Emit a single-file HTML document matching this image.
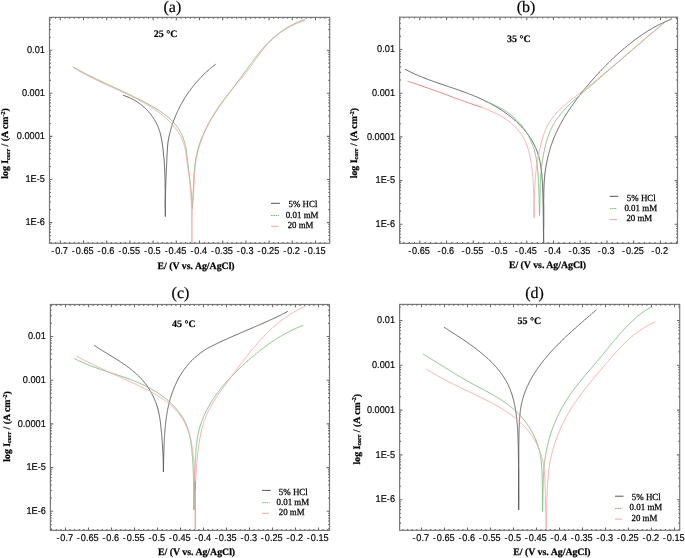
<!DOCTYPE html>
<html><head><meta charset="utf-8"><style>
html,body{margin:0;padding:0;background:#fff;width:685px;height:558px;overflow:hidden}
svg{display:block;text-rendering:geometricPrecision;will-change:transform}
.tl{font-family:"Liberation Sans",sans-serif;font-size:9.9px;fill:#000;stroke:#000;stroke-width:0.18px}
.ti{font-family:"Liberation Serif",serif;font-size:16px;fill:#000;stroke:#000;stroke-width:0.2px}
.tm{font-family:"Liberation Serif",serif;font-size:10px;font-weight:bold;fill:#000;stroke:#000;stroke-width:0.15px}
.al{font-family:"Liberation Serif",serif;font-size:9.8px;font-weight:bold;fill:#000;stroke:#000;stroke-width:0.25px}
.sub{font-size:6px}
.lg{font-family:"Liberation Serif",serif;font-size:9.3px;fill:#000;stroke:#000;stroke-width:0.25px}
</style></head>
<body><svg width="685" height="558" viewBox="0 0 685 558">
<rect width="685" height="558" fill="#fff"/>
<g><clipPath id="cla"><rect x="49.5" y="17.4" width="280.2" height="225.9"/></clipPath><path d="M123.10 95.30 L124.1 95.6 L125.1 96.0 L126.1 96.3 L127.0 96.7 L128.0 97.1 L129.0 97.5 L129.9 97.9 L130.8 98.4 L131.8 98.8 L132.7 99.3 L133.6 99.8 L134.5 100.3 L135.3 100.8 L136.2 101.3 L137.1 101.9 L137.9 102.4 L138.8 103.0 L139.6 103.6 L140.4 104.2 L141.2 104.8 L142.0 105.4 L142.7 106.0 L143.5 106.7 L144.3 107.4 L145.0 108.0 L145.7 108.7 L146.4 109.4 L147.1 110.1 L147.8 110.9 L148.5 111.6 L149.1 112.4 L149.8 113.1 L150.4 113.9 L151.0 114.7 L151.6 115.5 L152.2 116.3 L152.8 117.1 L153.3 117.9 L153.8 118.7 L154.4 119.6 L154.9 120.4 L155.4 121.3 L155.8 122.1 L156.3 123.0 L156.7 123.9 L157.2 124.8 L157.6 125.7 L158.0 126.6 L158.3 127.5 L158.7 128.5 L159.0 129.4 L159.3 130.3 L159.7 131.3 L159.9 132.2 L160.2 133.2 L160.5 134.2 L160.7 135.1 L160.9 136.1 L161.1 137.1 L161.3 138.1 L161.5 139.1 L161.7 140.1 L161.9 141.1 L162.0 142.1 L162.2 143.1 L162.3 144.1 L162.5 145.1 L162.6 146.1 L162.7 147.1 L162.9 148.1 L163.0 149.1 L163.1 150.1 L163.2 151.1 L163.3 152.1 L163.4 153.1 L163.5 154.1 L163.6 155.1 L163.7 156.1 L163.8 157.1 L163.9 158.1 L164.0 159.1 L164.1 160.1 L164.2 161.1 L164.2 162.1 L164.3 163.1 L164.4 164.1 L164.4 165.1 L164.5 166.1 L164.5 167.1 L164.6 168.1 L164.7 169.1 L164.7 170.1 L164.7 171.1 L164.8 172.2 L164.8 173.2 L164.9 174.2 L164.9 175.2 L164.9 176.2 L165.0 177.2 L165.0 178.2 L165.0 179.2 L165.0 180.2 L165.1 181.2 L165.1 182.2 L165.1 183.2 L165.1 184.2 L165.1 185.3 L165.1 186.3 L165.1 187.3 L165.2 188.3 L165.2 189.3 L165.2 190.3 L165.2 191.3 L165.2 192.3 L165.2 193.3 L165.2 194.3 L165.2 195.3 L165.2 196.3 L165.2 197.3 L165.2 198.4 L165.2 199.4 L165.2 200.4 L165.2 201.4 L165.2 202.4 L165.2 203.4 L165.2 204.4 L165.2 205.4 L165.2 206.4 L165.2 207.4 L165.3 208.4 L165.3 209.4 L165.3 210.5 L165.3 211.5 L165.3 212.5 L165.3 213.5 L165.3 214.5 L165.3 215.5 L165.3 216.5" fill="none" stroke="#555555" stroke-width="0.9" clip-path="url(#cla)"/><path d="M165.38 216.50 L165.4 215.5 L165.4 214.5 L165.3 213.5 L165.3 212.5 L165.3 211.5 L165.3 210.5 L165.3 209.5 L165.3 208.4 L165.3 207.4 L165.3 206.4 L165.3 205.4 L165.3 204.4 L165.3 203.4 L165.3 202.4 L165.4 201.4 L165.4 200.4 L165.4 199.4 L165.4 198.4 L165.4 197.4 L165.4 196.4 L165.5 195.4 L165.5 194.4 L165.5 193.4 L165.5 192.3 L165.6 191.3 L165.6 190.3 L165.6 189.3 L165.7 188.3 L165.7 187.3 L165.7 186.3 L165.8 185.3 L165.8 184.3 L165.8 183.3 L165.9 182.3 L165.9 181.3 L165.9 180.3 L166.0 179.3 L166.0 178.3 L166.1 177.3 L166.1 176.3 L166.1 175.3 L166.2 174.2 L166.2 173.2 L166.3 172.2 L166.3 171.2 L166.4 170.2 L166.4 169.2 L166.4 168.2 L166.5 167.2 L166.5 166.2 L166.6 165.2 L166.6 164.2 L166.7 163.2 L166.7 162.2 L166.8 161.2 L166.8 160.2 L166.8 159.2 L166.9 158.2 L166.9 157.1 L167.0 156.1 L167.0 155.1 L167.1 154.1 L167.1 153.1 L167.2 152.1 L167.3 151.1 L167.3 150.1 L167.4 149.1 L167.5 148.1 L167.5 147.1 L167.6 146.1 L167.7 145.1 L167.8 144.1 L167.9 143.1 L168.0 142.1 L168.2 141.1 L168.3 140.1 L168.5 139.1 L168.7 138.2 L168.9 137.2 L169.1 136.2 L169.3 135.2 L169.6 134.2 L169.8 133.2 L170.0 132.3 L170.3 131.3 L170.6 130.3 L170.8 129.4 L171.1 128.4 L171.4 127.4 L171.7 126.5 L172.0 125.5 L172.3 124.6 L172.6 123.6 L173.0 122.7 L173.3 121.7 L173.6 120.8 L174.0 119.8 L174.4 118.9 L174.7 118.0 L175.1 117.0 L175.5 116.1 L175.9 115.2 L176.3 114.3 L176.7 113.4 L177.1 112.4 L177.5 111.5 L177.9 110.6 L178.4 109.7 L178.8 108.8 L179.2 107.9 L179.7 107.0 L180.2 106.1 L180.6 105.3 L181.1 104.4 L181.6 103.5 L182.1 102.6 L182.6 101.8 L183.1 100.9 L183.6 100.0 L184.1 99.2 L184.6 98.3 L185.2 97.5 L185.7 96.6 L186.3 95.8 L186.8 94.9 L187.4 94.1 L187.9 93.3 L188.5 92.5 L189.1 91.6 L189.7 90.8 L190.3 90.0 L190.9 89.2 L191.5 88.4 L192.1 87.6 L192.7 86.8 L193.3 86.0 L193.9 85.2 L194.6 84.5 L195.2 83.7 L195.9 82.9 L196.5 82.2 L197.2 81.4 L197.8 80.7 L198.5 79.9 L199.2 79.2 L199.9 78.4 L200.6 77.7 L201.3 77.0 L202.0 76.3 L202.7 75.5 L203.4 74.8 L204.1 74.1 L204.8 73.4 L205.5 72.7 L206.3 72.1 L207.0 71.4 L207.8 70.7 L208.5 70.0 L209.3 69.4 L210.0 68.7 L210.8 68.1 L211.6 67.4 L212.3 66.8 L213.1 66.2 L213.9 65.5 L214.7 64.9 L215.5 64.3" fill="none" stroke="#555555" stroke-width="0.9" clip-path="url(#cla)"/><path d="M73.10 67.00 L74.0 67.5 L74.9 68.0 L75.8 68.5 L76.7 69.0 L77.6 69.5 L78.5 69.9 L79.3 70.4 L80.2 70.9 L81.1 71.4 L82.0 71.8 L82.9 72.3 L83.8 72.8 L84.7 73.2 L85.6 73.7 L86.5 74.1 L87.4 74.6 L88.3 75.1 L89.2 75.5 L90.1 76.0 L91.0 76.4 L91.9 76.9 L92.9 77.3 L93.8 77.7 L94.7 78.2 L95.6 78.6 L96.5 79.1 L97.4 79.5 L98.3 79.9 L99.2 80.4 L100.1 80.8 L101.0 81.2 L101.9 81.7 L102.8 82.1 L103.7 82.5 L104.6 82.9 L105.5 83.4 L106.4 83.8 L107.4 84.2 L108.3 84.6 L109.2 85.1 L110.1 85.5 L111.0 85.9 L111.9 86.3 L112.8 86.8 L113.7 87.2 L114.6 87.6 L115.5 88.0 L116.4 88.5 L117.3 88.9 L118.2 89.3 L119.1 89.7 L120.1 90.1 L121.0 90.6 L121.9 91.0 L122.8 91.4 L123.7 91.8 L124.6 92.3 L125.5 92.7 L126.4 93.1 L127.3 93.6 L128.2 94.0 L129.1 94.4 L130.0 94.8 L130.9 95.3 L131.8 95.7 L132.7 96.2 L133.6 96.6 L134.5 97.0 L135.4 97.5 L136.3 97.9 L137.2 98.4 L138.1 98.8 L139.0 99.3 L139.9 99.7 L140.8 100.2 L141.7 100.6 L142.6 101.1 L143.5 101.6 L144.4 102.1 L145.3 102.5 L146.2 103.0 L147.1 103.5 L148.0 104.0 L148.9 104.5 L149.8 105.0 L150.7 105.5 L151.6 106.0 L152.5 106.5 L153.4 107.1 L154.3 107.6 L155.2 108.1 L156.1 108.7 L157.0 109.2 L157.9 109.8 L158.8 110.4 L159.7 110.9 L160.5 111.5 L161.4 112.1 L162.3 112.7 L163.1 113.3 L164.0 113.9 L164.8 114.6 L165.7 115.2 L166.5 115.8 L167.3 116.5 L168.1 117.1 L168.9 117.8 L169.7 118.5 L170.4 119.2 L171.2 119.9 L171.9 120.6 L172.6 121.3 L173.3 122.1 L174.0 122.8 L174.6 123.6 L175.3 124.3 L175.9 125.1 L176.5 125.9 L177.1 126.7 L177.7 127.5 L178.2 128.3 L178.8 129.1 L179.3 130.0 L179.8 130.8 L180.3 131.7 L180.7 132.6 L181.2 133.4 L181.6 134.3 L182.0 135.2 L182.4 136.1 L182.8 137.0 L183.2 137.9 L183.5 138.9 L183.8 139.8 L184.1 140.7 L184.4 141.7 L184.7 142.6 L185.0 143.6 L185.2 144.5 L185.5 145.5 L185.7 146.5 L185.9 147.5 L186.0 148.4 L186.2 149.4 L186.4 150.4 L186.5 151.4 L186.6 152.4 L186.8 153.4 L186.9 154.4 L187.0 155.4 L187.1 156.4 L187.2 157.4 L187.3 158.4 L187.5 159.4 L187.6 160.4 L187.7 161.4 L187.8 162.4 L187.9 163.4 L188.0 164.5 L188.1 165.5 L188.3 166.5 L188.4 167.5 L188.5 168.5 L188.6 169.5 L188.8 170.5 L188.9 171.5 L189.0 172.5 L189.2 173.5 L189.3 174.5 L189.4 175.5 L189.6 176.5 L189.7 177.5 L189.8 178.5 L189.9 179.5 L190.1 180.5 L190.2 181.5 L190.3 182.5 L190.4 183.5 L190.5 184.5 L190.6 185.5 L190.7 186.5 L190.8 187.5 L190.9 188.5 L191.0 189.5 L191.1 190.5 L191.2 191.5 L191.3 192.5 L191.3 193.5 L191.4 194.5 L191.5 195.5 L191.5 196.5 L191.6 197.5 L191.7 198.5 L191.7 199.5 L191.8 200.5 L191.8 201.6 L191.9 202.6 L192.0 203.6 L192.0 204.6 L192.1 205.6 L192.2 206.6 L192.2 207.6 L192.3 208.6" fill="none" stroke="#78bc78" stroke-width="0.9" clip-path="url(#cla)"/><path d="M192.26 208.61 L192.3 207.6 L192.4 206.6 L192.5 205.6 L192.5 204.6 L192.6 203.6 L192.6 202.5 L192.7 201.5 L192.8 200.5 L192.8 199.5 L192.9 198.5 L192.9 197.5 L193.0 196.5 L193.0 195.5 L193.0 194.5 L193.1 193.5 L193.1 192.5 L193.2 191.5 L193.2 190.5 L193.3 189.5 L193.3 188.5 L193.4 187.5 L193.4 186.5 L193.5 185.5 L193.5 184.5 L193.5 183.4 L193.6 182.4 L193.6 181.4 L193.7 180.4 L193.8 179.4 L193.8 178.4 L193.9 177.4 L193.9 176.4 L194.0 175.4 L194.1 174.3 L194.1 173.3 L194.2 172.3 L194.3 171.3 L194.4 170.3 L194.5 169.3 L194.5 168.3 L194.6 167.3 L194.8 166.3 L194.9 165.3 L195.0 164.3 L195.1 163.3 L195.2 162.3 L195.4 161.3 L195.5 160.3 L195.7 159.3 L195.9 158.3 L196.0 157.3 L196.2 156.3 L196.4 155.4 L196.6 154.4 L196.8 153.4 L197.1 152.4 L197.3 151.5 L197.5 150.5 L197.8 149.6 L198.1 148.6 L198.3 147.7 L198.6 146.7 L198.9 145.8 L199.2 144.8 L199.5 143.9 L199.9 142.9 L200.2 142.0 L200.5 141.1 L200.9 140.2 L201.2 139.2 L201.6 138.3 L202.0 137.4 L202.4 136.5 L202.8 135.6 L203.2 134.7 L203.6 133.7 L204.0 132.8 L204.4 131.9 L204.8 131.0 L205.3 130.1 L205.7 129.3 L206.2 128.4 L206.6 127.5 L207.1 126.6 L207.5 125.7 L208.0 124.8 L208.5 123.9 L209.0 123.1 L209.5 122.2 L210.0 121.3 L210.5 120.4 L211.0 119.6 L211.5 118.7 L212.0 117.8 L212.6 117.0 L213.1 116.1 L213.6 115.3 L214.2 114.4 L214.7 113.6 L215.3 112.7 L215.8 111.9 L216.4 111.0 L216.9 110.2 L217.5 109.3 L218.1 108.5 L218.7 107.6 L219.2 106.8 L219.8 105.9 L220.4 105.1 L221.0 104.3 L221.6 103.4 L222.2 102.6 L222.8 101.8 L223.3 100.9 L223.9 100.1 L224.5 99.3 L225.2 98.4 L225.8 97.6 L226.4 96.8 L227.0 95.9 L227.6 95.1 L228.2 94.3 L228.8 93.5 L229.4 92.6 L230.0 91.8 L230.6 91.0 L231.3 90.2 L231.9 89.4 L232.5 88.5 L233.1 87.7 L233.7 86.9 L234.4 86.1 L235.0 85.3 L235.6 84.4 L236.2 83.6 L236.8 82.8 L237.4 82.0 L238.0 81.2 L238.7 80.4 L239.3 79.5 L239.9 78.7 L240.5 77.9 L241.1 77.1 L241.7 76.3 L242.3 75.5 L242.9 74.6 L243.5 73.8 L244.1 73.0 L244.7 72.2 L245.3 71.4 L245.9 70.6 L246.5 69.7 L247.1 68.9 L247.7 68.1 L248.3 67.3 L248.8 66.5 L249.4 65.7 L250.0 64.9 L250.6 64.1 L251.2 63.3 L251.8 62.5 L252.4 61.7 L253.0 60.9 L253.6 60.1 L254.2 59.3 L254.8 58.5 L255.4 57.7 L256.0 56.9 L256.6 56.1 L257.2 55.3 L257.8 54.5 L258.4 53.8 L259.0 53.0 L259.7 52.2 L260.3 51.5 L260.9 50.7 L261.5 50.0 L262.2 49.2 L262.8 48.5 L263.5 47.7 L264.1 47.0 L264.8 46.2 L265.4 45.5 L266.1 44.8 L266.8 44.1 L267.5 43.4 L268.2 42.7 L268.9 42.0 L269.6 41.3 L270.3 40.6 L271.0 39.9 L271.7 39.2 L272.5 38.6 L273.2 37.9 L273.9 37.3 L274.7 36.6 L275.5 36.0 L276.2 35.3 L277.0 34.7 L277.8 34.1 L278.6 33.5 L279.4 32.9 L280.2 32.3 L281.0 31.7 L281.8 31.1 L282.6 30.6 L283.5 30.0 L284.3 29.4 L285.2 28.9 L286.0 28.3 L286.9 27.8 L287.7 27.3 L288.6 26.8 L289.5 26.3 L290.4 25.8 L291.3 25.3 L292.2 24.8 L293.1 24.4 L294.0 23.9 L294.9 23.5 L295.8 23.0 L296.7 22.6 L297.7 22.2 L298.6 21.8 L299.6 21.4 L300.5 21.0 L301.5 20.6 L302.5 20.2 L303.4 19.9 L304.4 19.5 L305.4 19.2" fill="none" stroke="#78bc78" stroke-width="0.9" clip-path="url(#cla)"/><path d="M73.10 67.30 L74.0 67.9 L74.8 68.4 L75.7 68.9 L76.6 69.5 L77.5 70.0 L78.4 70.5 L79.2 71.0 L80.1 71.6 L81.0 72.1 L81.9 72.6 L82.8 73.1 L83.6 73.5 L84.5 74.0 L85.4 74.5 L86.3 75.0 L87.2 75.4 L88.1 75.9 L89.0 76.4 L89.9 76.8 L90.8 77.3 L91.6 77.7 L92.5 78.2 L93.4 78.6 L94.3 79.1 L95.2 79.5 L96.1 79.9 L97.0 80.4 L97.9 80.8 L98.8 81.2 L99.7 81.6 L100.6 82.0 L101.5 82.5 L102.4 82.9 L103.3 83.3 L104.2 83.7 L105.1 84.1 L106.0 84.5 L106.9 84.9 L107.8 85.3 L108.7 85.8 L109.6 86.2 L110.5 86.6 L111.5 87.0 L112.4 87.4 L113.3 87.8 L114.2 88.2 L115.1 88.6 L116.0 89.0 L116.9 89.4 L117.8 89.8 L118.7 90.2 L119.6 90.7 L120.5 91.1 L121.4 91.5 L122.3 91.9 L123.2 92.3 L124.1 92.7 L125.1 93.2 L126.0 93.6 L126.9 94.0 L127.8 94.5 L128.7 94.9 L129.6 95.3 L130.5 95.8 L131.4 96.2 L132.3 96.7 L133.2 97.1 L134.1 97.6 L135.0 98.0 L135.9 98.5 L136.8 99.0 L137.7 99.4 L138.6 99.9 L139.5 100.4 L140.5 100.9 L141.4 101.4 L142.3 101.9 L143.2 102.4 L144.1 102.9 L145.0 103.4 L145.9 103.9 L146.7 104.4 L147.6 105.0 L148.5 105.5 L149.4 106.0 L150.3 106.6 L151.2 107.2 L152.0 107.7 L152.9 108.3 L153.8 108.8 L154.6 109.4 L155.5 110.0 L156.4 110.6 L157.2 111.2 L158.0 111.8 L158.9 112.4 L159.7 113.0 L160.5 113.7 L161.3 114.3 L162.1 114.9 L162.9 115.6 L163.7 116.2 L164.5 116.9 L165.3 117.5 L166.0 118.2 L166.8 118.9 L167.5 119.6 L168.2 120.3 L169.0 120.9 L169.7 121.7 L170.4 122.4 L171.1 123.1 L171.7 123.8 L172.4 124.6 L173.1 125.3 L173.7 126.0 L174.3 126.8 L174.9 127.6 L175.5 128.3 L176.1 129.1 L176.7 129.9 L177.3 130.7 L177.8 131.5 L178.3 132.3 L178.8 133.2 L179.3 134.0 L179.8 134.8 L180.3 135.7 L180.8 136.5 L181.2 137.4 L181.6 138.3 L182.0 139.1 L182.4 140.0 L182.8 140.9 L183.1 141.8 L183.4 142.7 L183.7 143.7 L184.0 144.6 L184.3 145.5 L184.6 146.5 L184.8 147.4 L185.0 148.4 L185.2 149.4 L185.4 150.4 L185.6 151.4 L185.7 152.3 L185.9 153.3 L186.0 154.3 L186.2 155.3 L186.3 156.3 L186.4 157.3 L186.6 158.3 L186.7 159.3 L186.8 160.3 L187.0 161.3 L187.1 162.3 L187.2 163.3 L187.4 164.3 L187.5 165.3 L187.6 166.3 L187.8 167.3 L187.9 168.3 L188.1 169.3 L188.2 170.3 L188.4 171.3 L188.5 172.3 L188.6 173.3 L188.8 174.3 L188.9 175.3 L189.0 176.3 L189.2 177.3 L189.3 178.3 L189.4 179.3 L189.5 180.3 L189.7 181.3 L189.8 182.3 L189.9 183.3 L190.0 184.3 L190.1 185.3 L190.2 186.3 L190.3 187.3 L190.4 188.3 L190.4 189.3 L190.5 190.3 L190.6 191.3 L190.7 192.3 L190.8 193.3 L190.8 194.3 L190.9 195.3 L191.0 196.3 L191.0 197.3 L191.1 198.3 L191.2 199.3 L191.2 200.3 L191.3 201.3 L191.3 202.3 L191.4 203.3 L191.4 204.3 L191.5 205.3 L191.5 206.3 L191.6 207.3 L191.6 208.3 L191.6 209.3 L191.7 210.3 L191.7 211.3 L191.7 212.3 L191.7 213.3 L191.8 214.4 L191.8 215.4 L191.8 216.4 L191.8 217.4 L191.8 218.4 L191.8 219.4 L191.8 220.4 L191.8 221.4 L191.9 222.4 L191.9 223.4 L191.9 224.4 L191.9 225.4 L191.9 226.4 L191.9 227.4 L191.9 228.4 L191.9 229.4 L191.9 230.4 L191.9 231.4 L191.9 232.4 L191.9 233.4 L191.9 234.5 L191.9 235.5 L191.9 236.5 L191.9 237.5 L191.9 238.5 L191.9 239.5 L191.9 240.5 L191.9 241.5 L191.9 242.5 L191.9 243.5" fill="none" stroke="#f4a6a6" stroke-width="0.9" clip-path="url(#cla)"/><path d="M191.92 243.50 L191.9 242.5 L191.9 241.5 L191.9 240.5 L191.9 239.5 L191.9 238.5 L191.9 237.5 L191.9 236.5 L191.9 235.5 L191.9 234.5 L191.9 233.5 L191.9 232.4 L191.9 231.4 L191.9 230.4 L191.9 229.4 L191.9 228.4 L191.9 227.4 L191.9 226.4 L191.9 225.4 L191.9 224.4 L191.9 223.4 L191.9 222.4 L191.9 221.4 L191.9 220.4 L192.0 219.4 L192.0 218.4 L192.0 217.4 L192.0 216.4 L192.0 215.4 L192.1 214.3 L192.1 213.3 L192.1 212.3 L192.2 211.3 L192.2 210.3 L192.3 209.3 L192.3 208.3 L192.4 207.3 L192.4 206.3 L192.5 205.3 L192.6 204.3 L192.7 203.3 L192.7 202.3 L192.8 201.3 L192.9 200.3 L193.0 199.3 L193.1 198.3 L193.2 197.3 L193.2 196.3 L193.3 195.3 L193.4 194.3 L193.5 193.3 L193.6 192.3 L193.6 191.3 L193.7 190.3 L193.8 189.3 L193.9 188.3 L193.9 187.3 L194.0 186.3 L194.0 185.3 L194.1 184.3 L194.1 183.3 L194.2 182.3 L194.2 181.3 L194.2 180.2 L194.3 179.2 L194.3 178.2 L194.4 177.2 L194.4 176.2 L194.5 175.2 L194.5 174.2 L194.6 173.2 L194.7 172.2 L194.8 171.2 L194.8 170.2 L194.9 169.2 L195.0 168.2 L195.2 167.2 L195.3 166.2 L195.4 165.2 L195.5 164.2 L195.7 163.2 L195.8 162.2 L196.0 161.2 L196.2 160.3 L196.3 159.3 L196.5 158.3 L196.7 157.3 L196.9 156.3 L197.1 155.4 L197.3 154.4 L197.6 153.4 L197.8 152.4 L198.0 151.5 L198.3 150.5 L198.6 149.5 L198.8 148.6 L199.1 147.6 L199.4 146.6 L199.7 145.7 L199.9 144.7 L200.2 143.8 L200.6 142.8 L200.9 141.9 L201.2 140.9 L201.5 140.0 L201.9 139.1 L202.2 138.1 L202.6 137.2 L202.9 136.2 L203.3 135.3 L203.7 134.4 L204.0 133.5 L204.4 132.5 L204.8 131.6 L205.2 130.7 L205.6 129.8 L206.0 128.9 L206.5 128.0 L206.9 127.0 L207.3 126.1 L207.8 125.2 L208.2 124.3 L208.7 123.4 L209.1 122.5 L209.6 121.7 L210.1 120.8 L210.5 119.9 L211.0 119.0 L211.5 118.1 L212.0 117.2 L212.5 116.4 L213.0 115.5 L213.5 114.6 L214.1 113.8 L214.6 112.9 L215.1 112.1 L215.6 111.2 L216.2 110.4 L216.7 109.5 L217.3 108.7 L217.9 107.8 L218.4 107.0 L219.0 106.2 L219.6 105.3 L220.2 104.5 L220.7 103.7 L221.3 102.9 L221.9 102.1 L222.5 101.3 L223.2 100.5 L223.8 99.6 L224.4 98.8 L225.0 98.0 L225.6 97.3 L226.3 96.5 L226.9 95.7 L227.5 94.9 L228.2 94.1 L228.8 93.3 L229.4 92.5 L230.1 91.7 L230.7 91.0 L231.4 90.2 L232.0 89.4 L232.7 88.6 L233.3 87.8 L234.0 87.1 L234.6 86.3 L235.3 85.5 L236.0 84.7 L236.6 84.0 L237.3 83.2 L237.9 82.4 L238.6 81.6 L239.2 80.9 L239.9 80.1 L240.5 79.3 L241.2 78.5 L241.8 77.8 L242.5 77.0 L243.1 76.2 L243.8 75.4 L244.4 74.6 L245.0 73.8 L245.7 73.1 L246.3 72.3 L246.9 71.5 L247.5 70.7 L248.1 69.9 L248.8 69.1 L249.4 68.3 L250.0 67.5 L250.6 66.7 L251.2 65.8 L251.8 65.0 L252.3 64.2 L252.9 63.4 L253.5 62.6 L254.1 61.8 L254.7 60.9 L255.2 60.1 L255.8 59.3 L256.4 58.5 L257.0 57.7 L257.6 56.8 L258.1 56.0 L258.7 55.2 L259.3 54.4 L259.9 53.6 L260.5 52.8 L261.1 52.0 L261.7 51.2 L262.3 50.4 L262.9 49.7 L263.5 48.9 L264.2 48.1 L264.8 47.4 L265.5 46.6 L266.1 45.9 L266.8 45.1 L267.4 44.4 L268.1 43.7 L268.8 42.9 L269.5 42.2 L270.2 41.5 L270.9 40.8 L271.6 40.1 L272.3 39.5 L273.0 38.8 L273.7 38.1 L274.5 37.5 L275.2 36.8 L276.0 36.2 L276.7 35.5 L277.5 34.9 L278.3 34.3 L279.1 33.7 L279.8 33.1 L280.6 32.5 L281.4 31.9 L282.3 31.4 L283.1 30.8 L283.9 30.3 L284.8 29.7 L285.6 29.2 L286.4 28.7 L287.3 28.2 L288.2 27.7 L289.1 27.2 L289.9 26.7 L290.8 26.2 L291.7 25.8 L292.6 25.3 L293.6 24.9 L294.5 24.5 L295.4 24.1 L296.4 23.7 L297.3 23.3 L298.3 22.9 L299.2 22.5 L300.2 22.2 L301.2 21.8 L302.2 21.5 L303.2 21.2 L304.2 20.9 L305.2 20.6" fill="none" stroke="#f4a6a6" stroke-width="0.9" clip-path="url(#cla)"/><rect x="49.5" y="17.4" width="280.2" height="225.9" fill="none" stroke="#7a7a7a" stroke-width="1.2"/><path d="M51.02 243.3 v-1.4 M51.02 17.4 v1.4 M55.66 243.3 v-1.4 M55.66 17.4 v1.4 M60.30 243.3 v-2.8 M60.30 17.4 v2.8 M64.94 243.3 v-1.4 M64.94 17.4 v1.4 M69.58 243.3 v-1.4 M69.58 17.4 v1.4 M74.22 243.3 v-1.4 M74.22 17.4 v1.4 M78.86 243.3 v-1.4 M78.86 17.4 v1.4 M83.50 243.3 v-2.8 M83.50 17.4 v2.8 M88.14 243.3 v-1.4 M88.14 17.4 v1.4 M92.78 243.3 v-1.4 M92.78 17.4 v1.4 M97.42 243.3 v-1.4 M97.42 17.4 v1.4 M102.06 243.3 v-1.4 M102.06 17.4 v1.4 M106.70 243.3 v-2.8 M106.70 17.4 v2.8 M111.34 243.3 v-1.4 M111.34 17.4 v1.4 M115.98 243.3 v-1.4 M115.98 17.4 v1.4 M120.62 243.3 v-1.4 M120.62 17.4 v1.4 M125.26 243.3 v-1.4 M125.26 17.4 v1.4 M129.90 243.3 v-2.8 M129.90 17.4 v2.8 M134.54 243.3 v-1.4 M134.54 17.4 v1.4 M139.18 243.3 v-1.4 M139.18 17.4 v1.4 M143.82 243.3 v-1.4 M143.82 17.4 v1.4 M148.46 243.3 v-1.4 M148.46 17.4 v1.4 M153.10 243.3 v-2.8 M153.10 17.4 v2.8 M157.74 243.3 v-1.4 M157.74 17.4 v1.4 M162.38 243.3 v-1.4 M162.38 17.4 v1.4 M167.02 243.3 v-1.4 M167.02 17.4 v1.4 M171.66 243.3 v-1.4 M171.66 17.4 v1.4 M176.30 243.3 v-2.8 M176.30 17.4 v2.8 M180.94 243.3 v-1.4 M180.94 17.4 v1.4 M185.58 243.3 v-1.4 M185.58 17.4 v1.4 M190.22 243.3 v-1.4 M190.22 17.4 v1.4 M194.86 243.3 v-1.4 M194.86 17.4 v1.4 M199.50 243.3 v-2.8 M199.50 17.4 v2.8 M204.14 243.3 v-1.4 M204.14 17.4 v1.4 M208.78 243.3 v-1.4 M208.78 17.4 v1.4 M213.42 243.3 v-1.4 M213.42 17.4 v1.4 M218.06 243.3 v-1.4 M218.06 17.4 v1.4 M222.70 243.3 v-2.8 M222.70 17.4 v2.8 M227.34 243.3 v-1.4 M227.34 17.4 v1.4 M231.98 243.3 v-1.4 M231.98 17.4 v1.4 M236.62 243.3 v-1.4 M236.62 17.4 v1.4 M241.26 243.3 v-1.4 M241.26 17.4 v1.4 M245.90 243.3 v-2.8 M245.90 17.4 v2.8 M250.54 243.3 v-1.4 M250.54 17.4 v1.4 M255.18 243.3 v-1.4 M255.18 17.4 v1.4 M259.82 243.3 v-1.4 M259.82 17.4 v1.4 M264.46 243.3 v-1.4 M264.46 17.4 v1.4 M269.10 243.3 v-2.8 M269.10 17.4 v2.8 M273.74 243.3 v-1.4 M273.74 17.4 v1.4 M278.38 243.3 v-1.4 M278.38 17.4 v1.4 M283.02 243.3 v-1.4 M283.02 17.4 v1.4 M287.66 243.3 v-1.4 M287.66 17.4 v1.4 M292.30 243.3 v-2.8 M292.30 17.4 v2.8 M296.94 243.3 v-1.4 M296.94 17.4 v1.4 M301.58 243.3 v-1.4 M301.58 17.4 v1.4 M306.22 243.3 v-1.4 M306.22 17.4 v1.4 M310.86 243.3 v-1.4 M310.86 17.4 v1.4 M315.50 243.3 v-2.8 M315.50 17.4 v2.8 M320.14 243.3 v-1.4 M320.14 17.4 v1.4 M324.78 243.3 v-1.4 M324.78 17.4 v1.4 M49.5 239.75 h1.4 M329.7 239.75 h-1.4 M49.5 235.57 h1.4 M329.7 235.57 h-1.4 M49.5 232.16 h1.4 M329.7 232.16 h-1.4 M49.5 229.28 h1.4 M329.7 229.28 h-1.4 M49.5 226.78 h1.4 M329.7 226.78 h-1.4 M49.5 224.57 h1.4 M329.7 224.57 h-1.4 M49.5 222.60 h2.8 M329.7 222.60 h-2.8 M49.5 209.63 h1.4 M329.7 209.63 h-1.4 M49.5 202.04 h1.4 M329.7 202.04 h-1.4 M49.5 196.65 h1.4 M329.7 196.65 h-1.4 M49.5 192.47 h1.4 M329.7 192.47 h-1.4 M49.5 189.06 h1.4 M329.7 189.06 h-1.4 M49.5 186.18 h1.4 M329.7 186.18 h-1.4 M49.5 183.68 h1.4 M329.7 183.68 h-1.4 M49.5 181.47 h1.4 M329.7 181.47 h-1.4 M49.5 179.50 h2.8 M329.7 179.50 h-2.8 M49.5 166.53 h1.4 M329.7 166.53 h-1.4 M49.5 158.94 h1.4 M329.7 158.94 h-1.4 M49.5 153.55 h1.4 M329.7 153.55 h-1.4 M49.5 149.37 h1.4 M329.7 149.37 h-1.4 M49.5 145.96 h1.4 M329.7 145.96 h-1.4 M49.5 143.08 h1.4 M329.7 143.08 h-1.4 M49.5 140.58 h1.4 M329.7 140.58 h-1.4 M49.5 138.37 h1.4 M329.7 138.37 h-1.4 M49.5 136.40 h2.8 M329.7 136.40 h-2.8 M49.5 123.43 h1.4 M329.7 123.43 h-1.4 M49.5 115.84 h1.4 M329.7 115.84 h-1.4 M49.5 110.45 h1.4 M329.7 110.45 h-1.4 M49.5 106.27 h1.4 M329.7 106.27 h-1.4 M49.5 102.86 h1.4 M329.7 102.86 h-1.4 M49.5 99.98 h1.4 M329.7 99.98 h-1.4 M49.5 97.48 h1.4 M329.7 97.48 h-1.4 M49.5 95.27 h1.4 M329.7 95.27 h-1.4 M49.5 93.30 h2.8 M329.7 93.30 h-2.8 M49.5 80.33 h1.4 M329.7 80.33 h-1.4 M49.5 72.74 h1.4 M329.7 72.74 h-1.4 M49.5 67.35 h1.4 M329.7 67.35 h-1.4 M49.5 63.17 h1.4 M329.7 63.17 h-1.4 M49.5 59.76 h1.4 M329.7 59.76 h-1.4 M49.5 56.88 h1.4 M329.7 56.88 h-1.4 M49.5 54.38 h1.4 M329.7 54.38 h-1.4 M49.5 52.17 h1.4 M329.7 52.17 h-1.4 M49.5 50.20 h2.8 M329.7 50.20 h-2.8 M49.5 37.23 h1.4 M329.7 37.23 h-1.4 M49.5 29.64 h1.4 M329.7 29.64 h-1.4 M49.5 24.25 h1.4 M329.7 24.25 h-1.4 M49.5 20.07 h1.4 M329.7 20.07 h-1.4" stroke="#6a6a6a" stroke-width="1.1" fill="none"/><text transform="translate(59.55 253.90) scale(0.93 1)" class="tl" text-anchor="middle">-<tspan dx="0.95">0.7</tspan></text><text transform="translate(82.75 253.90) scale(0.93 1)" class="tl" text-anchor="middle">-<tspan dx="0.95">0.65</tspan></text><text transform="translate(105.95 253.90) scale(0.93 1)" class="tl" text-anchor="middle">-<tspan dx="0.95">0.6</tspan></text><text transform="translate(129.15 253.90) scale(0.93 1)" class="tl" text-anchor="middle">-<tspan dx="0.95">0.55</tspan></text><text transform="translate(152.35 253.90) scale(0.93 1)" class="tl" text-anchor="middle">-<tspan dx="0.95">0.5</tspan></text><text transform="translate(175.55 253.90) scale(0.93 1)" class="tl" text-anchor="middle">-<tspan dx="0.95">0.45</tspan></text><text transform="translate(198.75 253.90) scale(0.93 1)" class="tl" text-anchor="middle">-<tspan dx="0.95">0.4</tspan></text><text transform="translate(221.95 253.90) scale(0.93 1)" class="tl" text-anchor="middle">-<tspan dx="0.95">0.35</tspan></text><text transform="translate(245.15 253.90) scale(0.93 1)" class="tl" text-anchor="middle">-<tspan dx="0.95">0.3</tspan></text><text transform="translate(268.35 253.90) scale(0.93 1)" class="tl" text-anchor="middle">-<tspan dx="0.95">0.25</tspan></text><text transform="translate(291.55 253.90) scale(0.93 1)" class="tl" text-anchor="middle">-<tspan dx="0.95">0.2</tspan></text><text transform="translate(314.75 253.90) scale(0.93 1)" class="tl" text-anchor="middle">-<tspan dx="0.95">0.15</tspan></text><text transform="translate(44.90 52.90) scale(0.93 1)" class="tl" text-anchor="end">0.01</text><text transform="translate(44.90 96.00) scale(0.93 1)" class="tl" text-anchor="end">0.001</text><text transform="translate(44.90 139.10) scale(0.93 1)" class="tl" text-anchor="end">0.0001</text><text transform="translate(44.90 182.20) scale(0.93 1)" class="tl" text-anchor="end">1E-5</text><text transform="translate(44.90 225.30) scale(0.93 1)" class="tl" text-anchor="end">1E-6</text><text x="172.4" y="11.6" class="ti" text-anchor="middle">(a)</text><text x="153.7" y="37.2" class="tm">25 °C</text><text x="157.5" y="268.9" class="al">E/ (V vs. Ag/AgCl)</text><text transform="translate(8.2 178.7) rotate(-90)" class="al">log I<tspan class="sub" dy="1.4">corr</tspan><tspan dy="-1.4"> / (A cm</tspan><tspan class="sub" dy="-3.5">-2</tspan><tspan dy="3.5">)</tspan></text><line x1="271.0" x2="279.9" y1="203.3" y2="203.3" stroke="#555555" stroke-width="1"/><text x="288.5" y="207.4" class="lg" textLength="29.0" lengthAdjust="spacingAndGlyphs">5% HCl</text><line x1="271.0" x2="278.9" y1="215.5" y2="215.5" stroke="#78bc78" stroke-width="1" stroke-dasharray="1.6 0.7"/><text x="285.8" y="217.5" class="lg" textLength="32.7" lengthAdjust="spacingAndGlyphs">0.01 mM</text><line x1="271.0" x2="278.2" y1="226.3" y2="226.3" stroke="#f4a6a6" stroke-width="1"/><text x="287.7" y="227.9" class="lg" textLength="25.8" lengthAdjust="spacingAndGlyphs">20 mM</text></g>
<g><clipPath id="clb"><rect x="399.6" y="17.2" width="277.9" height="226.20000000000002"/></clipPath><path d="M405.00 69.20 L405.9 69.7 L406.8 70.1 L407.7 70.6 L408.5 71.1 L409.4 71.5 L410.3 71.9 L411.2 72.4 L412.1 72.8 L413.0 73.2 L413.9 73.6 L414.8 74.1 L415.8 74.5 L416.7 74.9 L417.6 75.3 L418.5 75.7 L419.4 76.0 L420.3 76.4 L421.3 76.8 L422.2 77.2 L423.1 77.6 L424.0 77.9 L425.0 78.3 L425.9 78.6 L426.8 79.0 L427.8 79.4 L428.7 79.7 L429.6 80.1 L430.6 80.4 L431.5 80.7 L432.5 81.1 L433.4 81.4 L434.4 81.8 L435.3 82.1 L436.2 82.4 L437.2 82.7 L438.1 83.1 L439.1 83.4 L440.0 83.7 L441.0 84.1 L441.9 84.4 L442.9 84.7 L443.9 85.0 L444.8 85.3 L445.8 85.7 L446.7 86.0 L447.7 86.3 L448.6 86.6 L449.6 87.0 L450.5 87.3 L451.5 87.6 L452.5 87.9 L453.4 88.3 L454.4 88.6 L455.3 88.9 L456.3 89.2 L457.2 89.6 L458.2 89.9 L459.2 90.2 L460.1 90.6 L461.1 90.9 L462.0 91.3 L463.0 91.6 L463.9 92.0 L464.9 92.3 L465.8 92.7 L466.8 93.0 L467.7 93.4 L468.7 93.7 L469.6 94.1 L470.6 94.5 L471.5 94.8 L472.5 95.2 L473.4 95.6 L474.4 96.0 L475.3 96.4 L476.3 96.8 L477.2 97.2 L478.1 97.6 L479.1 98.0 L480.0 98.4 L480.9 98.8 L481.9 99.3 L482.8 99.7 L483.7 100.1 L484.7 100.6 L485.6 101.0 L486.5 101.5 L487.4 102.0 L488.3 102.4 L489.3 102.9 L490.2 103.4 L491.1 103.9 L492.0 104.4 L492.9 104.9 L493.8 105.4 L494.7 105.9 L495.6 106.5 L496.5 107.0 L497.4 107.5 L498.2 108.1 L499.1 108.6 L500.0 109.2 L500.9 109.7 L501.7 110.3 L502.6 110.9 L503.4 111.4 L504.3 112.0 L505.1 112.6 L506.0 113.2 L506.8 113.8 L507.6 114.4 L508.4 115.1 L509.3 115.7 L510.1 116.3 L510.9 116.9 L511.7 117.6 L512.4 118.2 L513.2 118.9 L514.0 119.6 L514.8 120.2 L515.5 120.9 L516.3 121.6 L517.0 122.3 L517.7 122.9 L518.5 123.6 L519.2 124.4 L519.9 125.1 L520.6 125.8 L521.3 126.5 L522.0 127.2 L522.6 128.0 L523.3 128.7 L523.9 129.5 L524.6 130.2 L525.2 131.0 L525.8 131.7 L526.5 132.5 L527.1 133.3 L527.6 134.1 L528.2 134.9 L528.8 135.7 L529.4 136.5 L529.9 137.3 L530.4 138.1 L531.0 138.9 L531.5 139.7 L532.0 140.6 L532.5 141.4 L532.9 142.2 L533.4 143.1 L533.9 143.9 L534.3 144.8 L534.7 145.7 L535.1 146.6 L535.5 147.4 L535.9 148.3 L536.3 149.2 L536.6 150.1 L537.0 151.0 L537.3 151.9 L537.6 152.8 L537.9 153.8 L538.2 154.7 L538.5 155.6 L538.8 156.6 L539.0 157.5 L539.3 158.4 L539.5 159.4 L539.7 160.4 L539.9 161.3 L540.1 162.3 L540.3 163.2 L540.5 164.2 L540.6 165.2 L540.8 166.2 L540.9 167.2 L541.1 168.1 L541.2 169.1 L541.3 170.1 L541.5 171.1 L541.6 172.1 L541.7 173.1 L541.8 174.1 L541.9 175.1 L541.9 176.1 L542.0 177.1 L542.1 178.1 L542.2 179.1 L542.2 180.1 L542.3 181.1 L542.4 182.1 L542.4 183.2 L542.5 184.2 L542.5 185.2 L542.6 186.2 L542.6 187.2 L542.6 188.2 L542.7 189.2 L542.7 190.2 L542.8 191.2 L542.8 192.2 L542.8 193.2 L542.9 194.2 L542.9 195.2 L542.9 196.2 L543.0 197.3 L543.0 198.3 L543.0 199.3 L543.0 200.3 L543.1 201.3 L543.1 202.3 L543.1 203.3 L543.1 204.3 L543.1 205.3 L543.1 206.3 L543.2 207.3 L543.2 208.3 L543.2 209.3 L543.2 210.3 L543.2 211.3 L543.2 212.3 L543.2 213.3 L543.3 214.3 L543.3 215.3 L543.3 216.3 L543.3 217.4 L543.3 218.4 L543.3 219.4 L543.3 220.4 L543.3 221.4 L543.3 222.4 L543.4 223.4 L543.4 224.4 L543.4 225.4 L543.4 226.4 L543.4 227.4 L543.4 228.4 L543.4 229.4 L543.4 230.4 L543.4 231.4 L543.5 232.4 L543.5 233.4 L543.5 234.4 L543.5 235.4 L543.5 236.5 L543.5 237.5 L543.6 238.5 L543.6 239.5 L543.6 240.5 L543.6 241.5 L543.6 242.5 L543.7 243.5" fill="none" stroke="#555555" stroke-width="0.9" clip-path="url(#clb)"/><path d="M543.55 243.50 L543.6 242.5 L543.6 241.5 L543.6 240.5 L543.6 239.5 L543.6 238.5 L543.7 237.5 L543.7 236.4 L543.7 235.4 L543.7 234.4 L543.7 233.4 L543.7 232.4 L543.7 231.4 L543.7 230.4 L543.7 229.4 L543.7 228.4 L543.8 227.4 L543.8 226.4 L543.8 225.4 L543.8 224.4 L543.8 223.4 L543.8 222.4 L543.8 221.3 L543.8 220.3 L543.8 219.3 L543.8 218.3 L543.8 217.3 L543.8 216.3 L543.8 215.3 L543.8 214.3 L543.8 213.3 L543.8 212.3 L543.8 211.3 L543.8 210.3 L543.8 209.3 L543.8 208.3 L543.8 207.2 L543.8 206.2 L543.8 205.2 L543.7 204.2 L543.7 203.2 L543.7 202.2 L543.7 201.2 L543.7 200.2 L543.7 199.2 L543.7 198.2 L543.8 197.2 L543.8 196.2 L543.8 195.1 L543.8 194.1 L543.8 193.1 L543.8 192.1 L543.8 191.1 L543.9 190.1 L543.9 189.1 L543.9 188.1 L544.0 187.1 L544.0 186.1 L544.0 185.1 L544.1 184.1 L544.1 183.1 L544.2 182.1 L544.3 181.1 L544.3 180.1 L544.4 179.1 L544.5 178.1 L544.6 177.1 L544.7 176.1 L544.8 175.1 L544.9 174.1 L545.0 173.1 L545.1 172.1 L545.3 171.1 L545.4 170.1 L545.5 169.1 L545.7 168.1 L545.9 167.1 L546.0 166.1 L546.2 165.1 L546.4 164.1 L546.6 163.1 L546.8 162.1 L547.0 161.1 L547.2 160.2 L547.4 159.2 L547.6 158.2 L547.8 157.2 L548.1 156.2 L548.3 155.3 L548.6 154.3 L548.8 153.3 L549.1 152.4 L549.4 151.4 L549.6 150.4 L549.9 149.5 L550.2 148.5 L550.5 147.6 L550.8 146.6 L551.1 145.6 L551.5 144.7 L551.8 143.7 L552.1 142.8 L552.5 141.9 L552.8 140.9 L553.2 140.0 L553.5 139.1 L553.9 138.1 L554.3 137.2 L554.7 136.3 L555.1 135.3 L555.5 134.4 L555.9 133.5 L556.3 132.6 L556.7 131.7 L557.1 130.8 L557.5 129.9 L558.0 129.0 L558.4 128.1 L558.9 127.2 L559.3 126.3 L559.8 125.4 L560.2 124.5 L560.7 123.6 L561.2 122.8 L561.7 121.9 L562.2 121.0 L562.7 120.1 L563.2 119.3 L563.7 118.4 L564.2 117.6 L564.7 116.7 L565.2 115.8 L565.8 115.0 L566.3 114.1 L566.8 113.3 L567.4 112.5 L567.9 111.6 L568.5 110.8 L569.0 110.0 L569.6 109.1 L570.2 108.3 L570.7 107.5 L571.3 106.6 L571.9 105.8 L572.5 105.0 L573.0 104.2 L573.6 103.4 L574.2 102.6 L574.8 101.8 L575.4 100.9 L576.0 100.1 L576.6 99.3 L577.2 98.5 L577.8 97.7 L578.4 96.9 L579.1 96.1 L579.7 95.3 L580.3 94.5 L580.9 93.7 L581.5 92.9 L582.2 92.2 L582.8 91.4 L583.4 90.6 L584.1 89.8 L584.7 89.0 L585.3 88.2 L586.0 87.4 L586.6 86.7 L587.3 85.9 L587.9 85.1 L588.6 84.3 L589.2 83.6 L589.9 82.8 L590.5 82.0 L591.2 81.3 L591.9 80.5 L592.5 79.7 L593.2 79.0 L593.9 78.2 L594.5 77.5 L595.2 76.7 L595.9 76.0 L596.6 75.2 L597.2 74.5 L597.9 73.7 L598.6 73.0 L599.3 72.2 L600.0 71.5 L600.7 70.8 L601.4 70.0 L602.1 69.3 L602.8 68.6 L603.5 67.8 L604.2 67.1 L604.9 66.4 L605.6 65.7 L606.3 65.0 L607.0 64.2 L607.7 63.5 L608.4 62.8 L609.2 62.1 L609.9 61.4 L610.6 60.7 L611.3 60.0 L612.1 59.3 L612.8 58.6 L613.5 57.9 L614.3 57.2 L615.0 56.6 L615.8 55.9 L616.5 55.2 L617.2 54.5 L618.0 53.8 L618.7 53.2 L619.5 52.5 L620.2 51.8 L621.0 51.2 L621.8 50.5 L622.5 49.9 L623.3 49.2 L624.1 48.6 L624.8 47.9 L625.6 47.3 L626.4 46.6 L627.1 46.0 L627.9 45.3 L628.7 44.7 L629.5 44.1 L630.3 43.5 L631.1 42.8 L631.9 42.2 L632.6 41.6 L633.4 41.0 L634.2 40.4 L635.0 39.8 L635.8 39.2 L636.6 38.6 L637.5 38.0 L638.3 37.4 L639.1 36.8 L639.9 36.3 L640.7 35.7 L641.5 35.1 L642.4 34.5 L643.2 34.0 L644.0 33.4 L644.9 32.9 L645.7 32.3 L646.6 31.8 L647.4 31.3 L648.2 30.7 L649.1 30.2 L650.0 29.7 L650.8 29.2 L651.7 28.7 L652.5 28.2 L653.4 27.7 L654.3 27.2 L655.2 26.7 L656.1 26.2 L656.9 25.8 L657.8 25.3 L658.7 24.8 L659.6 24.4 L660.5 23.9 L661.4 23.5 L662.3 23.1 L663.3 22.6 L664.2 22.2 L665.1 21.8 L666.0 21.4 L667.0 21.0 L667.9 20.6 L668.8 20.2 L669.8 19.8 L670.7 19.5 L671.7 19.1" fill="none" stroke="#555555" stroke-width="0.9" clip-path="url(#clb)"/><path d="M484.70 101.40 L485.7 101.7 L486.8 102.0 L487.8 102.4 L488.8 102.7 L489.8 103.1 L490.8 103.5 L491.8 103.9 L492.7 104.3 L493.7 104.7 L494.7 105.1 L495.6 105.6 L496.6 106.0 L497.5 106.5 L498.5 106.9 L499.4 107.4 L500.3 107.9 L501.2 108.4 L502.1 108.9 L503.0 109.5 L503.9 110.0 L504.7 110.6 L505.6 111.1 L506.5 111.7 L507.3 112.3 L508.1 112.9 L509.0 113.5 L509.8 114.1 L510.6 114.7 L511.4 115.3 L512.1 116.0 L512.9 116.6 L513.7 117.3 L514.4 118.0 L515.2 118.7 L515.9 119.3 L516.6 120.0 L517.3 120.8 L518.0 121.5 L518.7 122.2 L519.4 122.9 L520.1 123.7 L520.7 124.4 L521.3 125.2 L522.0 126.0 L522.6 126.7 L523.2 127.5 L523.8 128.3 L524.4 129.1 L524.9 129.9 L525.5 130.8 L526.0 131.6 L526.6 132.4 L527.1 133.2 L527.6 134.1 L528.1 135.0 L528.6 135.8 L529.0 136.7 L529.5 137.6 L529.9 138.4 L530.3 139.3 L530.7 140.2 L531.1 141.1 L531.5 142.0 L531.9 142.9 L532.2 143.9 L532.6 144.8 L532.9 145.7 L533.2 146.7 L533.5 147.6 L533.8 148.5 L534.1 149.5 L534.4 150.4 L534.6 151.4 L534.9 152.4 L535.1 153.3 L535.4 154.3 L535.6 155.3 L535.8 156.3 L536.0 157.2 L536.2 158.2 L536.3 159.2 L536.5 160.2 L536.6 161.2 L536.8 162.2 L536.9 163.2 L537.1 164.2 L537.2 165.2 L537.3 166.2 L537.4 167.2 L537.5 168.2 L537.6 169.2 L537.7 170.2 L537.8 171.2 L537.9 172.2 L538.0 173.2 L538.0 174.2 L538.1 175.2 L538.2 176.2 L538.2 177.2 L538.3 178.2 L538.4 179.3 L538.4 180.3 L538.5 181.3 L538.5 182.3 L538.6 183.3 L538.6 184.3 L538.6 185.3 L538.7 186.3 L538.7 187.3 L538.8 188.3 L538.8 189.3 L538.8 190.3 L538.9 191.3 L538.9 192.3 L538.9 193.4 L539.0 194.4 L539.0 195.4 L539.0 196.4 L539.1 197.4 L539.1 198.4 L539.1 199.4 L539.1 200.4 L539.2 201.4 L539.2 202.4 L539.2 203.4 L539.2 204.4 L539.3 205.4 L539.3 206.4 L539.3 207.4 L539.3 208.4 L539.4 209.5 L539.4 210.5 L539.4 211.5 L539.5 212.5 L539.5 213.5 L539.5 214.5 L539.6 215.5" fill="none" stroke="#78bc78" stroke-width="0.9" clip-path="url(#clb)"/><path d="M539.50 215.49 L539.5 214.5 L539.6 213.5 L539.6 212.5 L539.6 211.5 L539.7 210.5 L539.7 209.5 L539.7 208.5 L539.7 207.5 L539.8 206.4 L539.8 205.4 L539.8 204.4 L539.8 203.4 L539.8 202.4 L539.8 201.4 L539.9 200.4 L539.9 199.4 L539.9 198.4 L539.9 197.4 L539.9 196.4 L540.0 195.4 L540.0 194.4 L540.0 193.4 L540.0 192.4 L540.1 191.3 L540.1 190.3 L540.1 189.3 L540.1 188.3 L540.2 187.3 L540.2 186.3 L540.2 185.3 L540.3 184.3 L540.3 183.3 L540.4 182.3 L540.4 181.3 L540.5 180.3 L540.5 179.3 L540.6 178.3 L540.6 177.3 L540.7 176.3 L540.8 175.3 L540.9 174.3 L540.9 173.3 L541.0 172.3 L541.1 171.3 L541.2 170.3 L541.3 169.3 L541.4 168.3 L541.5 167.3 L541.6 166.3 L541.8 165.3 L541.9 164.3 L542.0 163.3 L542.2 162.3 L542.3 161.3 L542.5 160.3 L542.6 159.3 L542.8 158.3 L543.0 157.3 L543.2 156.3 L543.3 155.3 L543.5 154.3 L543.7 153.3 L543.9 152.4 L544.1 151.4 L544.4 150.4 L544.6 149.4 L544.8 148.4 L545.0 147.4 L545.3 146.5 L545.5 145.5 L545.7 144.5 L546.0 143.5 L546.2 142.6 L546.5 141.6 L546.8 140.6 L547.1 139.7 L547.4 138.7 L547.7 137.8 L548.0 136.8 L548.3 135.9 L548.7 134.9 L549.0 134.0 L549.4 133.1 L549.8 132.1 L550.1 131.2 L550.5 130.3 L550.9 129.4 L551.4 128.5 L551.8 127.6 L552.2 126.7 L552.7 125.8 L553.2 124.9 L553.7 124.1 L554.2 123.2 L554.7 122.4 L555.2 121.5 L555.7 120.7 L556.3 119.8 L556.8 119.0 L557.4 118.2 L558.0 117.4 L558.6 116.6 L559.2 115.8 L559.8 115.0 L560.4 114.2 L561.1 113.5 L561.7 112.7 L562.4 111.9 L563.0 111.2 L563.7 110.4 L564.4 109.7 L565.1 108.9 L565.8 108.2 L566.5 107.5 L567.2 106.7 L567.9 106.0 L568.6 105.3 L569.4 104.6 L570.1 103.9 L570.8 103.2 L571.6 102.5 L572.3 101.8 L573.1 101.1 L573.8 100.4 L574.6 99.7 L575.4 99.0 L576.1 98.3 L576.9 97.7 L577.7 97.0 L578.5 96.3 L579.2 95.6 L580.0 95.0 L580.8 94.3 L581.6 93.6 L582.4 93.0 L583.2 92.3 L583.9 91.6 L584.7 91.0 L585.5 90.3 L586.3 89.6 L587.1 89.0 L587.8 88.3 L588.6 87.7 L589.4 87.0 L590.2 86.3 L590.9 85.7 L591.7 85.0 L592.5 84.4 L593.2 83.7 L594.0 83.0 L594.8 82.4 L595.6 81.7 L596.3 81.1 L597.1 80.4 L597.8 79.7 L598.6 79.1 L599.4 78.4 L600.1 77.8 L600.9 77.1 L601.7 76.5 L602.4 75.8 L603.2 75.1 L603.9 74.5 L604.7 73.8 L605.5 73.2 L606.2 72.5 L607.0 71.9 L607.7 71.2 L608.5 70.6 L609.2 69.9 L610.0 69.3 L610.7 68.6 L611.5 68.0 L612.3 67.3 L613.0 66.6 L613.8 66.0 L614.5 65.3 L615.3 64.7 L616.0 64.0 L616.8 63.4 L617.5 62.7 L618.3 62.1 L619.0 61.4 L619.8 60.8 L620.5 60.1 L621.3 59.5 L622.0 58.8 L622.8 58.2 L623.5 57.5 L624.3 56.9 L625.0 56.2 L625.8 55.6 L626.5 54.9 L627.3 54.3 L628.0 53.6 L628.8 53.0 L629.6 52.3 L630.3 51.7 L631.1 51.0 L631.8 50.4 L632.6 49.7 L633.3 49.1 L634.1 48.4 L634.8 47.8 L635.6 47.1 L636.3 46.5 L637.1 45.8 L637.9 45.2 L638.6 44.5 L639.4 43.9 L640.1 43.2 L640.9 42.6 L641.7 41.9 L642.4 41.3 L643.2 40.6 L643.9 40.0 L644.7 39.3 L645.5 38.6 L646.2 38.0 L647.0 37.3 L647.8 36.7 L648.5 36.0 L649.3 35.4 L650.1 34.7 L650.8 34.1 L651.6 33.4 L652.4 32.8 L653.2 32.1 L653.9 31.5 L654.7 30.8 L655.5 30.2 L656.3 29.5 L657.0 28.9 L657.8 28.2 L658.6 27.5 L659.4 26.9 L660.2 26.2 L661.0 25.6 L661.7 24.9 L662.5 24.3 L663.3 23.6 L664.1 23.0 L664.9 22.3" fill="none" stroke="#78bc78" stroke-width="0.9" clip-path="url(#clb)"/><path d="M481.80 107.40 L482.7 107.8 L483.7 108.1 L484.6 108.5 L485.6 108.9 L486.5 109.2 L487.5 109.6 L488.4 110.0 L489.4 110.4 L490.3 110.8 L491.2 111.3 L492.2 111.7 L493.1 112.1 L494.1 112.6 L495.0 113.0 L496.0 113.5 L496.9 114.0 L497.8 114.5 L498.7 114.9 L499.7 115.4 L500.6 116.0 L501.5 116.5 L502.4 117.0 L503.2 117.5 L504.1 118.1 L505.0 118.7 L505.9 119.2 L506.7 119.8 L507.5 120.4 L508.4 121.0 L509.2 121.6 L510.0 122.2 L510.8 122.9 L511.5 123.5 L512.3 124.2 L513.1 124.9 L513.8 125.5 L514.5 126.2 L515.2 126.9 L515.9 127.6 L516.6 128.4 L517.3 129.1 L517.9 129.8 L518.5 130.6 L519.2 131.4 L519.8 132.1 L520.3 132.9 L520.9 133.7 L521.5 134.5 L522.0 135.4 L522.5 136.2 L523.0 137.0 L523.5 137.9 L524.0 138.7 L524.4 139.6 L524.9 140.5 L525.3 141.3 L525.7 142.2 L526.1 143.1 L526.4 144.1 L526.8 145.0 L527.1 145.9 L527.4 146.8 L527.8 147.8 L528.0 148.7 L528.3 149.7 L528.6 150.6 L528.9 151.6 L529.1 152.6 L529.3 153.6 L529.6 154.5 L529.8 155.5 L530.0 156.5 L530.2 157.5 L530.4 158.5 L530.6 159.5 L530.7 160.5 L530.9 161.5 L531.1 162.4 L531.2 163.4 L531.4 164.4 L531.5 165.4 L531.7 166.4 L531.8 167.4 L532.0 168.4 L532.1 169.4 L532.2 170.4 L532.3 171.5 L532.4 172.5 L532.5 173.5 L532.6 174.5 L532.7 175.5 L532.8 176.5 L532.9 177.5 L533.0 178.5 L533.0 179.5 L533.1 180.5 L533.2 181.5 L533.2 182.5 L533.3 183.5 L533.3 184.5 L533.4 185.5 L533.4 186.5 L533.5 187.6 L533.5 188.6 L533.5 189.6 L533.6 190.6 L533.6 191.6 L533.6 192.6 L533.7 193.6 L533.7 194.6 L533.7 195.6 L533.7 196.6 L533.8 197.6 L533.8 198.6 L533.8 199.6 L533.8 200.6 L533.8 201.7 L533.8 202.7 L533.8 203.7 L533.8 204.7 L533.9 205.7 L533.9 206.7 L533.9 207.7 L533.9 208.7 L533.9 209.7 L533.9 210.7 L533.9 211.7 L533.9 212.8 L533.9 213.8 L533.9 214.8 L534.0 215.8 L534.0 216.8 L534.0 217.8" fill="none" stroke="#f4a6a6" stroke-width="0.9" clip-path="url(#clb)"/><path d="M534.04 217.80 L534.1 216.8 L534.1 215.8 L534.1 214.8 L534.1 213.8 L534.1 212.8 L534.1 211.8 L534.2 210.8 L534.2 209.8 L534.2 208.8 L534.2 207.8 L534.2 206.7 L534.3 205.7 L534.3 204.7 L534.3 203.7 L534.3 202.7 L534.3 201.7 L534.4 200.7 L534.4 199.7 L534.4 198.7 L534.4 197.7 L534.5 196.7 L534.5 195.7 L534.5 194.7 L534.6 193.7 L534.6 192.7 L534.6 191.7 L534.7 190.7 L534.7 189.7 L534.8 188.7 L534.8 187.6 L534.9 186.6 L534.9 185.6 L535.0 184.6 L535.0 183.6 L535.1 182.6 L535.2 181.6 L535.2 180.6 L535.3 179.6 L535.4 178.6 L535.5 177.6 L535.5 176.6 L535.6 175.6 L535.7 174.6 L535.8 173.6 L535.9 172.6 L536.0 171.6 L536.1 170.6 L536.2 169.6 L536.4 168.6 L536.5 167.6 L536.6 166.6 L536.8 165.6 L536.9 164.6 L537.0 163.7 L537.2 162.7 L537.4 161.7 L537.5 160.7 L537.7 159.7 L537.9 158.7 L538.0 157.7 L538.2 156.7 L538.4 155.7 L538.6 154.7 L538.8 153.7 L539.0 152.8 L539.2 151.8 L539.4 150.8 L539.6 149.8 L539.9 148.8 L540.1 147.8 L540.3 146.9 L540.6 145.9 L540.8 144.9 L541.0 143.9 L541.3 143.0 L541.5 142.0 L541.8 141.0 L542.1 140.1 L542.3 139.1 L542.6 138.1 L542.9 137.2 L543.2 136.2 L543.5 135.3 L543.8 134.3 L544.2 133.4 L544.5 132.5 L544.9 131.6 L545.2 130.6 L545.6 129.7 L546.0 128.8 L546.4 127.9 L546.8 127.0 L547.2 126.1 L547.7 125.3 L548.1 124.4 L548.6 123.5 L549.1 122.7 L549.6 121.8 L550.2 121.0 L550.7 120.2 L551.3 119.4 L551.8 118.6 L552.4 117.8 L553.0 117.0 L553.7 116.2 L554.3 115.4 L555.0 114.7 L555.6 113.9 L556.3 113.2 L557.0 112.4 L557.7 111.7 L558.4 110.9 L559.1 110.2 L559.8 109.5 L560.6 108.8 L561.3 108.1 L562.1 107.4 L562.8 106.7 L563.6 106.0 L564.4 105.3 L565.2 104.7 L565.9 104.0 L566.7 103.3 L567.5 102.7 L568.3 102.0 L569.1 101.4 L569.9 100.7 L570.7 100.1 L571.5 99.4 L572.3 98.8 L573.2 98.2 L574.0 97.5 L574.8 96.9 L575.6 96.3 L576.4 95.6 L577.2 95.0 L578.0 94.4 L578.8 93.8 L579.6 93.1 L580.4 92.5 L581.2 91.9 L582.0 91.3 L582.8 90.7 L583.6 90.1 L584.4 89.4 L585.2 88.8 L586.0 88.2 L586.8 87.6 L587.6 86.9 L588.4 86.3 L589.2 85.7 L590.0 85.1 L590.8 84.4 L591.6 83.8 L592.4 83.2 L593.1 82.5 L593.9 81.9 L594.7 81.3 L595.5 80.6 L596.3 80.0 L597.0 79.4 L597.8 78.7 L598.6 78.1 L599.4 77.5 L600.1 76.8 L600.9 76.2 L601.7 75.6 L602.4 74.9 L603.2 74.3 L604.0 73.6 L604.8 73.0 L605.5 72.3 L606.3 71.7 L607.1 71.1 L607.8 70.4 L608.6 69.8 L609.3 69.1 L610.1 68.5 L610.9 67.8 L611.6 67.2 L612.4 66.5 L613.2 65.9 L613.9 65.3 L614.7 64.6 L615.4 64.0 L616.2 63.3 L617.0 62.7 L617.7 62.0 L618.5 61.4 L619.2 60.7 L620.0 60.1 L620.7 59.4 L621.5 58.8 L622.3 58.1 L623.0 57.5 L623.8 56.8 L624.5 56.2 L625.3 55.5 L626.0 54.9 L626.8 54.2 L627.6 53.6 L628.3 52.9 L629.1 52.3 L629.8 51.6 L630.6 51.0 L631.4 50.3 L632.1 49.6 L632.9 49.0 L633.6 48.3 L634.4 47.7 L635.2 47.0 L635.9 46.4 L636.7 45.7 L637.4 45.1 L638.2 44.4 L639.0 43.8 L639.7 43.1 L640.5 42.5 L641.3 41.8 L642.0 41.2 L642.8 40.5 L643.6 39.9 L644.3 39.2 L645.1 38.6 L645.9 38.0 L646.6 37.3 L647.4 36.7 L648.2 36.0 L649.0 35.4 L649.7 34.7 L650.5 34.1 L651.3 33.4 L652.1 32.8 L652.8 32.1 L653.6 31.5 L654.4 30.9 L655.2 30.2 L656.0 29.6 L656.8 28.9 L657.5 28.3 L658.3 27.7 L659.1 27.0 L659.9 26.4 L660.7 25.7 L661.5 25.1" fill="none" stroke="#f4a6a6" stroke-width="0.9" clip-path="url(#clb)"/><path d="M407.50 81.20 L408.5 81.5 L409.5 81.8 L410.4 82.1 L411.4 82.5 L412.4 82.8 L413.3 83.1 L414.3 83.4 L415.3 83.7 L416.3 84.1 L417.2 84.4 L418.2 84.7 L419.2 85.0 L420.1 85.4 L421.1 85.7 L422.1 86.0 L423.0 86.4 L424.0 86.7 L425.0 87.1 L425.9 87.4 L426.9 87.7 L427.9 88.1 L428.8 88.4 L429.8 88.8 L430.8 89.1 L431.7 89.4 L432.7 89.8 L433.6 90.1 L434.6 90.5 L435.6 90.8 L436.5 91.2 L437.5 91.5 L438.5 91.9 L439.4 92.2 L440.4 92.6 L441.3 92.9 L442.3 93.3 L443.3 93.6 L444.2 94.0 L445.2 94.3 L446.1 94.7 L447.1 95.0 L448.1 95.4 L449.0 95.7 L450.0 96.1 L451.0 96.5 L451.9 96.8 L452.9 97.2 L453.8 97.5 L454.8 97.9 L455.8 98.2 L456.7 98.6 L457.7 98.9 L458.6 99.3 L459.6 99.6 L460.6 100.0 L461.5 100.3 L462.5 100.7 L463.5 101.0 L464.4 101.3 L465.4 101.7 L466.3 102.0 L467.3 102.4 L468.3 102.7 L469.2 103.1 L470.2 103.4 L471.2 103.7 L472.1 104.1 L473.1 104.4 L474.1 104.8 L475.0 105.1 L476.0 105.4 L477.0 105.8 L477.9 106.1 L478.9 106.4 L479.9 106.7 L480.8 107.1 L481.8 107.4" fill="none" stroke="#e87070" stroke-width="0.9" clip-path="url(#clb)"/><rect x="399.6" y="17.2" width="277.9" height="226.20000000000002" fill="none" stroke="#7a7a7a" stroke-width="1.2"/><path d="M403.76 243.4 v-1.4 M403.76 17.2 v1.4 M409.11 243.4 v-1.4 M409.11 17.2 v1.4 M414.45 243.4 v-1.4 M414.45 17.2 v1.4 M419.80 243.4 v-2.8 M419.80 17.2 v2.8 M425.15 243.4 v-1.4 M425.15 17.2 v1.4 M430.49 243.4 v-1.4 M430.49 17.2 v1.4 M435.84 243.4 v-1.4 M435.84 17.2 v1.4 M441.19 243.4 v-1.4 M441.19 17.2 v1.4 M446.54 243.4 v-2.8 M446.54 17.2 v2.8 M451.88 243.4 v-1.4 M451.88 17.2 v1.4 M457.23 243.4 v-1.4 M457.23 17.2 v1.4 M462.58 243.4 v-1.4 M462.58 17.2 v1.4 M467.92 243.4 v-1.4 M467.92 17.2 v1.4 M473.27 243.4 v-2.8 M473.27 17.2 v2.8 M478.62 243.4 v-1.4 M478.62 17.2 v1.4 M483.96 243.4 v-1.4 M483.96 17.2 v1.4 M489.31 243.4 v-1.4 M489.31 17.2 v1.4 M494.66 243.4 v-1.4 M494.66 17.2 v1.4 M500.00 243.4 v-2.8 M500.00 17.2 v2.8 M505.35 243.4 v-1.4 M505.35 17.2 v1.4 M510.70 243.4 v-1.4 M510.70 17.2 v1.4 M516.05 243.4 v-1.4 M516.05 17.2 v1.4 M521.39 243.4 v-1.4 M521.39 17.2 v1.4 M526.74 243.4 v-2.8 M526.74 17.2 v2.8 M532.09 243.4 v-1.4 M532.09 17.2 v1.4 M537.43 243.4 v-1.4 M537.43 17.2 v1.4 M542.78 243.4 v-1.4 M542.78 17.2 v1.4 M548.13 243.4 v-1.4 M548.13 17.2 v1.4 M553.48 243.4 v-2.8 M553.48 17.2 v2.8 M558.82 243.4 v-1.4 M558.82 17.2 v1.4 M564.17 243.4 v-1.4 M564.17 17.2 v1.4 M569.52 243.4 v-1.4 M569.52 17.2 v1.4 M574.86 243.4 v-1.4 M574.86 17.2 v1.4 M580.21 243.4 v-2.8 M580.21 17.2 v2.8 M585.56 243.4 v-1.4 M585.56 17.2 v1.4 M590.90 243.4 v-1.4 M590.90 17.2 v1.4 M596.25 243.4 v-1.4 M596.25 17.2 v1.4 M601.60 243.4 v-1.4 M601.60 17.2 v1.4 M606.95 243.4 v-2.8 M606.95 17.2 v2.8 M612.29 243.4 v-1.4 M612.29 17.2 v1.4 M617.64 243.4 v-1.4 M617.64 17.2 v1.4 M622.99 243.4 v-1.4 M622.99 17.2 v1.4 M628.33 243.4 v-1.4 M628.33 17.2 v1.4 M633.68 243.4 v-2.8 M633.68 17.2 v2.8 M639.03 243.4 v-1.4 M639.03 17.2 v1.4 M644.37 243.4 v-1.4 M644.37 17.2 v1.4 M649.72 243.4 v-1.4 M649.72 17.2 v1.4 M655.07 243.4 v-1.4 M655.07 17.2 v1.4 M660.42 243.4 v-2.8 M660.42 17.2 v2.8 M665.76 243.4 v-1.4 M665.76 17.2 v1.4 M671.11 243.4 v-1.4 M671.11 17.2 v1.4 M676.46 243.4 v-1.4 M676.46 17.2 v1.4 M399.6 241.69 h1.4 M677.5 241.69 h-1.4 M399.6 237.46 h1.4 M677.5 237.46 h-1.4 M399.6 233.99 h1.4 M677.5 233.99 h-1.4 M399.6 231.07 h1.4 M677.5 231.07 h-1.4 M399.6 228.53 h1.4 M677.5 228.53 h-1.4 M399.6 226.30 h1.4 M677.5 226.30 h-1.4 M399.6 224.30 h2.8 M677.5 224.30 h-2.8 M399.6 211.14 h1.4 M677.5 211.14 h-1.4 M399.6 203.45 h1.4 M677.5 203.45 h-1.4 M399.6 197.99 h1.4 M677.5 197.99 h-1.4 M399.6 193.76 h1.4 M677.5 193.76 h-1.4 M399.6 190.29 h1.4 M677.5 190.29 h-1.4 M399.6 187.37 h1.4 M677.5 187.37 h-1.4 M399.6 184.83 h1.4 M677.5 184.83 h-1.4 M399.6 182.60 h1.4 M677.5 182.60 h-1.4 M399.6 180.60 h2.8 M677.5 180.60 h-2.8 M399.6 167.44 h1.4 M677.5 167.44 h-1.4 M399.6 159.75 h1.4 M677.5 159.75 h-1.4 M399.6 154.29 h1.4 M677.5 154.29 h-1.4 M399.6 150.06 h1.4 M677.5 150.06 h-1.4 M399.6 146.59 h1.4 M677.5 146.59 h-1.4 M399.6 143.67 h1.4 M677.5 143.67 h-1.4 M399.6 141.13 h1.4 M677.5 141.13 h-1.4 M399.6 138.90 h1.4 M677.5 138.90 h-1.4 M399.6 136.90 h2.8 M677.5 136.90 h-2.8 M399.6 123.74 h1.4 M677.5 123.74 h-1.4 M399.6 116.05 h1.4 M677.5 116.05 h-1.4 M399.6 110.59 h1.4 M677.5 110.59 h-1.4 M399.6 106.36 h1.4 M677.5 106.36 h-1.4 M399.6 102.89 h1.4 M677.5 102.89 h-1.4 M399.6 99.97 h1.4 M677.5 99.97 h-1.4 M399.6 97.43 h1.4 M677.5 97.43 h-1.4 M399.6 95.20 h1.4 M677.5 95.20 h-1.4 M399.6 93.20 h2.8 M677.5 93.20 h-2.8 M399.6 80.04 h1.4 M677.5 80.04 h-1.4 M399.6 72.35 h1.4 M677.5 72.35 h-1.4 M399.6 66.89 h1.4 M677.5 66.89 h-1.4 M399.6 62.66 h1.4 M677.5 62.66 h-1.4 M399.6 59.19 h1.4 M677.5 59.19 h-1.4 M399.6 56.27 h1.4 M677.5 56.27 h-1.4 M399.6 53.73 h1.4 M677.5 53.73 h-1.4 M399.6 51.50 h1.4 M677.5 51.50 h-1.4 M399.6 49.50 h2.8 M677.5 49.50 h-2.8 M399.6 36.34 h1.4 M677.5 36.34 h-1.4 M399.6 28.65 h1.4 M677.5 28.65 h-1.4 M399.6 23.19 h1.4 M677.5 23.19 h-1.4 M399.6 18.96 h1.4 M677.5 18.96 h-1.4" stroke="#6a6a6a" stroke-width="1.1" fill="none"/><text transform="translate(419.05 254.00) scale(0.93 1)" class="tl" text-anchor="middle">-<tspan dx="0.95">0.65</tspan></text><text transform="translate(445.79 254.00) scale(0.93 1)" class="tl" text-anchor="middle">-<tspan dx="0.95">0.6</tspan></text><text transform="translate(472.52 254.00) scale(0.93 1)" class="tl" text-anchor="middle">-<tspan dx="0.95">0.55</tspan></text><text transform="translate(499.25 254.00) scale(0.93 1)" class="tl" text-anchor="middle">-<tspan dx="0.95">0.5</tspan></text><text transform="translate(525.99 254.00) scale(0.93 1)" class="tl" text-anchor="middle">-<tspan dx="0.95">0.45</tspan></text><text transform="translate(552.73 254.00) scale(0.93 1)" class="tl" text-anchor="middle">-<tspan dx="0.95">0.4</tspan></text><text transform="translate(579.46 254.00) scale(0.93 1)" class="tl" text-anchor="middle">-<tspan dx="0.95">0.35</tspan></text><text transform="translate(606.20 254.00) scale(0.93 1)" class="tl" text-anchor="middle">-<tspan dx="0.95">0.3</tspan></text><text transform="translate(632.93 254.00) scale(0.93 1)" class="tl" text-anchor="middle">-<tspan dx="0.95">0.25</tspan></text><text transform="translate(659.67 254.00) scale(0.93 1)" class="tl" text-anchor="middle">-<tspan dx="0.95">0.2</tspan></text><text transform="translate(395.00 52.20) scale(0.93 1)" class="tl" text-anchor="end">0.01</text><text transform="translate(395.00 95.90) scale(0.93 1)" class="tl" text-anchor="end">0.001</text><text transform="translate(395.00 139.60) scale(0.93 1)" class="tl" text-anchor="end">0.0001</text><text transform="translate(395.00 183.30) scale(0.93 1)" class="tl" text-anchor="end">1E-5</text><text transform="translate(395.00 227.00) scale(0.93 1)" class="tl" text-anchor="end">1E-6</text><text x="526.0" y="12.3" class="ti" text-anchor="middle">(b)</text><text x="507.1" y="41.8" class="tm">35 °C</text><text x="508.9" y="268.4" class="al">E/ (V vs. Ag/AgCl)</text><text transform="translate(357.0 178.3) rotate(-90)" class="al">log I<tspan class="sub" dy="1.4">corr</tspan><tspan dy="-1.4"> / (A cm</tspan><tspan class="sub" dy="-3.5">-2</tspan><tspan dy="3.5">)</tspan></text><line x1="609.8" x2="618.3" y1="196.3" y2="196.3" stroke="#555555" stroke-width="1"/><text x="626.8000000000001" y="200.6" class="lg" textLength="29.0" lengthAdjust="spacingAndGlyphs">5% HCl</text><line x1="609.8" x2="617.0" y1="208.6" y2="208.6" stroke="#78bc78" stroke-width="1" stroke-dasharray="1.6 0.7"/><text x="624.4000000000001" y="210.7" class="lg" textLength="32.7" lengthAdjust="spacingAndGlyphs">0.01 mM</text><line x1="609.8" x2="617.0" y1="219.6" y2="219.6" stroke="#f4a6a6" stroke-width="1"/><text x="626.4000000000001" y="220.9" class="lg" textLength="25.8" lengthAdjust="spacingAndGlyphs">20 mM</text></g>
<g><clipPath id="clc"><rect x="50.4" y="304.5" width="279.1" height="225.89999999999998"/></clipPath><path d="M94.10 345.30 L94.9 345.8 L95.7 346.3 L96.5 346.9 L97.3 347.4 L98.1 347.9 L98.9 348.4 L99.7 349.0 L100.6 349.5 L101.4 350.0 L102.3 350.5 L103.1 351.0 L104.0 351.6 L104.8 352.1 L105.7 352.6 L106.5 353.1 L107.4 353.7 L108.3 354.2 L109.2 354.7 L110.0 355.3 L110.9 355.8 L111.8 356.3 L112.7 356.9 L113.6 357.4 L114.4 358.0 L115.3 358.5 L116.2 359.1 L117.1 359.6 L118.0 360.2 L118.8 360.8 L119.7 361.3 L120.6 361.9 L121.5 362.5 L122.3 363.1 L123.2 363.7 L124.0 364.2 L124.9 364.8 L125.8 365.4 L126.6 366.0 L127.4 366.7 L128.3 367.3 L129.1 367.9 L129.9 368.5 L130.7 369.2 L131.6 369.8 L132.4 370.5 L133.2 371.1 L133.9 371.8 L134.7 372.4 L135.5 373.1 L136.3 373.8 L137.0 374.5 L137.7 375.2 L138.5 375.9 L139.2 376.6 L139.9 377.3 L140.6 378.1 L141.3 378.8 L142.0 379.6 L142.6 380.3 L143.3 381.1 L143.9 381.8 L144.5 382.6 L145.2 383.4 L145.8 384.2 L146.4 385.0 L147.0 385.8 L147.5 386.6 L148.1 387.5 L148.6 388.3 L149.2 389.1 L149.7 390.0 L150.2 390.8 L150.7 391.7 L151.2 392.5 L151.7 393.4 L152.1 394.3 L152.6 395.1 L153.0 396.0 L153.4 396.9 L153.9 397.8 L154.3 398.7 L154.7 399.6 L155.0 400.5 L155.4 401.5 L155.8 402.4 L156.1 403.3 L156.4 404.3 L156.7 405.2 L157.0 406.1 L157.3 407.1 L157.6 408.0 L157.9 409.0 L158.1 410.0 L158.4 410.9 L158.6 411.9 L158.8 412.9 L159.0 413.8 L159.2 414.8 L159.4 415.8 L159.6 416.8 L159.7 417.8 L159.9 418.8 L160.1 419.8 L160.2 420.8 L160.3 421.8 L160.5 422.8 L160.6 423.8 L160.7 424.8 L160.8 425.8 L160.9 426.8 L161.0 427.8 L161.1 428.8 L161.2 429.8 L161.3 430.8 L161.4 431.8 L161.5 432.8 L161.6 433.8 L161.7 434.8 L161.8 435.8 L161.9 436.8 L161.9 437.8 L162.0 438.8 L162.1 439.8 L162.2 440.8 L162.2 441.8 L162.3 442.8 L162.4 443.8 L162.4 444.9 L162.5 445.9 L162.6 446.9 L162.6 447.9 L162.7 448.9 L162.7 449.9 L162.8 450.9 L162.8 451.9 L162.9 452.9 L162.9 453.9 L163.0 454.9 L163.0 455.9 L163.1 456.9 L163.1 457.9 L163.1 458.9 L163.2 459.9 L163.2 460.9 L163.2 461.9 L163.3 462.9 L163.3 463.9 L163.3 464.9 L163.3 466.0 L163.3 467.0 L163.4 468.0 L163.4 469.0 L163.4 470.0 L163.4 471.0 L163.4 472.0" fill="none" stroke="#555555" stroke-width="0.9" clip-path="url(#clc)"/><path d="M163.38 471.99 L163.4 471.0 L163.4 470.0 L163.5 469.0 L163.5 467.9 L163.5 466.9 L163.5 465.9 L163.6 464.9 L163.6 463.9 L163.6 462.9 L163.6 461.9 L163.7 460.9 L163.7 459.8 L163.7 458.8 L163.7 457.8 L163.7 456.8 L163.8 455.8 L163.8 454.8 L163.8 453.8 L163.9 452.8 L163.9 451.7 L163.9 450.7 L163.9 449.7 L164.0 448.7 L164.0 447.7 L164.0 446.7 L164.1 445.7 L164.1 444.6 L164.2 443.6 L164.2 442.6 L164.3 441.6 L164.3 440.6 L164.4 439.6 L164.4 438.6 L164.5 437.6 L164.5 436.5 L164.6 435.5 L164.7 434.5 L164.7 433.5 L164.8 432.5 L164.9 431.5 L165.0 430.5 L165.0 429.5 L165.1 428.5 L165.2 427.4 L165.3 426.4 L165.4 425.4 L165.5 424.4 L165.6 423.4 L165.7 422.4 L165.8 421.4 L166.0 420.4 L166.1 419.4 L166.2 418.4 L166.4 417.4 L166.5 416.4 L166.7 415.4 L166.8 414.4 L167.0 413.4 L167.2 412.4 L167.3 411.4 L167.5 410.4 L167.7 409.4 L167.9 408.4 L168.1 407.4 L168.3 406.4 L168.5 405.4 L168.8 404.4 L169.0 403.5 L169.3 402.5 L169.5 401.5 L169.8 400.5 L170.0 399.6 L170.3 398.6 L170.6 397.6 L170.9 396.7 L171.2 395.7 L171.5 394.7 L171.8 393.8 L172.2 392.8 L172.5 391.9 L172.9 390.9 L173.2 390.0 L173.6 389.1 L174.0 388.1 L174.3 387.2 L174.7 386.3 L175.1 385.4 L175.5 384.4 L176.0 383.5 L176.4 382.6 L176.8 381.7 L177.3 380.8 L177.8 380.0 L178.2 379.1 L178.7 378.2 L179.2 377.3 L179.7 376.4 L180.2 375.6 L180.7 374.7 L181.2 373.9 L181.8 373.0 L182.3 372.2 L182.9 371.4 L183.5 370.5 L184.0 369.7 L184.6 368.9 L185.2 368.1 L185.8 367.3 L186.5 366.5 L187.1 365.7 L187.7 365.0 L188.4 364.2 L189.0 363.5 L189.7 362.7 L190.4 362.0 L191.1 361.2 L191.8 360.5 L192.5 359.8 L193.2 359.1 L194.0 358.4 L194.7 357.7 L195.5 357.0 L196.3 356.3 L197.1 355.7 L197.9 355.0 L198.7 354.4 L199.5 353.7 L200.3 353.1 L201.1 352.5 L202.0 351.9 L202.9 351.3 L203.7 350.7 L204.6 350.1 L205.5 349.5 L206.4 349.0 L207.4 348.4 L208.3 347.9" fill="none" stroke="#555555" stroke-width="0.9" clip-path="url(#clc)"/><path d="M208.30 347.90 L209.2 347.4 L210.1 347.0 L211.0 346.5 L211.9 346.0 L212.8 345.6 L213.7 345.1 L214.7 344.7 L215.6 344.2 L216.5 343.8 L217.4 343.3 L218.3 342.9 L219.2 342.5 L220.2 342.0 L221.1 341.6 L222.0 341.2 L222.9 340.7 L223.8 340.3 L224.8 339.9 L225.7 339.5 L226.6 339.1 L227.6 338.6 L228.5 338.2 L229.4 337.8 L230.3 337.4 L231.3 337.0 L232.2 336.6 L233.1 336.2 L234.1 335.7 L235.0 335.3 L235.9 334.9 L236.9 334.5 L237.8 334.1 L238.7 333.7 L239.7 333.3 L240.6 332.9 L241.5 332.5 L242.5 332.1 L243.4 331.7 L244.3 331.3 L245.3 330.9 L246.2 330.5 L247.1 330.1 L248.1 329.7 L249.0 329.3 L250.0 328.9 L250.9 328.5 L251.8 328.1 L252.8 327.7 L253.7 327.3 L254.6 326.9 L255.6 326.5 L256.5 326.1 L257.4 325.7 L258.4 325.3 L259.3 324.9 L260.2 324.5 L261.2 324.1 L262.1 323.7 L263.0 323.3 L264.0 322.8 L264.9 322.4 L265.8 322.0 L266.7 321.6 L267.7 321.2 L268.6 320.8 L269.5 320.3 L270.4 319.9 L271.4 319.5 L272.3 319.1 L273.2 318.6 L274.1 318.2 L275.1 317.8 L276.0 317.3 L276.9 316.9 L277.8 316.4 L278.7 316.0 L279.6 315.6 L280.6 315.1 L281.5 314.7 L282.4 314.2 L283.3 313.7 L284.2 313.3 L285.1 312.8 L286.0 312.3 L286.9 311.9 L287.8 311.4" fill="none" stroke="#555555" stroke-width="0.9" clip-path="url(#clc)"/><path d="M74.20 358.40 L75.1 358.9 L76.0 359.3 L76.8 359.8 L77.7 360.2 L78.6 360.7 L79.5 361.1 L80.4 361.5 L81.3 361.9 L82.2 362.3 L83.1 362.7 L84.0 363.1 L84.9 363.5 L85.9 363.9 L86.8 364.3 L87.7 364.7 L88.6 365.0 L89.6 365.4 L90.5 365.8 L91.4 366.1 L92.4 366.5 L93.3 366.8 L94.2 367.2 L95.2 367.5 L96.1 367.8 L97.1 368.2 L98.0 368.5 L99.0 368.8 L99.9 369.2 L100.9 369.5 L101.8 369.8 L102.8 370.1 L103.8 370.5 L104.7 370.8 L105.7 371.1 L106.6 371.4 L107.6 371.7 L108.6 372.1 L109.5 372.4 L110.5 372.7 L111.5 373.0 L112.4 373.3 L113.4 373.6 L114.4 373.9 L115.3 374.3 L116.3 374.6 L117.3 374.9 L118.2 375.2 L119.2 375.6 L120.2 375.9 L121.1 376.2 L122.1 376.5 L123.1 376.9 L124.0 377.2 L125.0 377.5 L126.0 377.9 L126.9 378.2 L127.9 378.6 L128.8 378.9 L129.8 379.3 L130.8 379.6 L131.7 380.0 L132.7 380.4 L133.6 380.7 L134.6 381.1 L135.5 381.5 L136.5 381.9 L137.4 382.3 L138.4 382.7 L139.3 383.1 L140.2 383.5 L141.2 383.9 L142.1 384.4 L143.0 384.8 L144.0 385.2 L144.9 385.7 L145.8 386.1 L146.8 386.6 L147.7 387.1 L148.6 387.5 L149.5 388.0 L150.4 388.5 L151.3 389.0 L152.2 389.5 L153.1 390.1 L154.0 390.6 L154.9 391.1 L155.8 391.7 L156.7 392.2 L157.5 392.8 L158.4 393.3 L159.3 393.9 L160.1 394.5 L161.0 395.1 L161.8 395.7 L162.6 396.3 L163.5 396.9 L164.3 397.5 L165.1 398.2 L165.9 398.8 L166.7 399.5 L167.5 400.1 L168.3 400.8 L169.0 401.4 L169.8 402.1 L170.5 402.8 L171.3 403.5 L172.0 404.2 L172.7 404.9 L173.4 405.6 L174.1 406.4 L174.8 407.1 L175.5 407.8 L176.1 408.6 L176.8 409.4 L177.4 410.1 L178.0 410.9 L178.7 411.7 L179.3 412.5 L179.8 413.3 L180.4 414.1 L181.0 414.9 L181.5 415.7 L182.0 416.5 L182.6 417.4 L183.1 418.2 L183.5 419.0 L184.0 419.9 L184.5 420.8 L184.9 421.6 L185.3 422.5 L185.7 423.4 L186.1 424.3 L186.5 425.2 L186.8 426.1 L187.2 427.0 L187.5 428.0 L187.8 428.9 L188.1 429.8 L188.4 430.8 L188.7 431.7 L188.9 432.7 L189.2 433.6 L189.4 434.6 L189.6 435.6 L189.8 436.5 L190.0 437.5 L190.2 438.5 L190.4 439.5 L190.6 440.5 L190.7 441.5 L190.9 442.4 L191.0 443.4 L191.2 444.4 L191.3 445.4 L191.4 446.4 L191.6 447.4 L191.7 448.5 L191.8 449.5 L191.9 450.5 L192.0 451.5 L192.1 452.5 L192.1 453.5 L192.2 454.5 L192.3 455.5 L192.4 456.5 L192.5 457.5 L192.5 458.5 L192.6 459.5 L192.7 460.5 L192.7 461.6 L192.8 462.6 L192.9 463.6 L192.9 464.6 L193.0 465.6 L193.0 466.6 L193.1 467.6 L193.1 468.6 L193.2 469.6 L193.2 470.6 L193.3 471.6 L193.3 472.6 L193.3 473.6 L193.4 474.6 L193.4 475.6 L193.4 476.7 L193.5 477.7 L193.5 478.7 L193.5 479.7 L193.6 480.7 L193.6 481.7 L193.6 482.7 L193.6 483.7 L193.6 484.7 L193.7 485.7 L193.7 486.7 L193.7 487.7 L193.7 488.7 L193.7 489.7 L193.7 490.7 L193.7 491.8 L193.8 492.8 L193.8 493.8 L193.8 494.8 L193.8 495.8 L193.8 496.8 L193.8 497.8 L193.8 498.8 L193.8 499.8 L193.8 500.8 L193.8 501.8 L193.8 502.8 L193.8 503.8 L193.8 504.9 L193.9 505.9 L193.9 506.9 L193.9 507.9 L193.9 508.9 L193.9 509.9" fill="none" stroke="#78bc78" stroke-width="0.9" clip-path="url(#clc)"/><path d="M193.92 509.90 L193.9 508.9 L193.9 507.9 L194.0 506.9 L194.0 505.9 L194.0 504.9 L194.0 503.9 L194.0 502.9 L194.0 501.9 L194.1 500.8 L194.1 499.8 L194.1 498.8 L194.1 497.8 L194.1 496.8 L194.2 495.8 L194.2 494.8 L194.2 493.8 L194.2 492.8 L194.2 491.8 L194.3 490.8 L194.3 489.8 L194.3 488.8 L194.4 487.8 L194.4 486.8 L194.4 485.8 L194.4 484.8 L194.5 483.8 L194.5 482.8 L194.5 481.8 L194.6 480.8 L194.6 479.7 L194.6 478.7 L194.7 477.7 L194.7 476.7 L194.7 475.7 L194.8 474.7 L194.8 473.7 L194.8 472.7 L194.9 471.7 L194.9 470.7 L195.0 469.7 L195.0 468.7 L195.0 467.7 L195.1 466.7 L195.1 465.7 L195.2 464.7 L195.2 463.7 L195.3 462.7 L195.3 461.7 L195.4 460.6 L195.4 459.6 L195.5 458.6 L195.5 457.6 L195.6 456.6 L195.7 455.6 L195.7 454.6 L195.8 453.6 L195.9 452.6 L195.9 451.6 L196.0 450.6 L196.1 449.6 L196.1 448.6 L196.2 447.6 L196.3 446.6 L196.4 445.6 L196.5 444.6 L196.6 443.6 L196.7 442.6 L196.8 441.6 L197.0 440.6 L197.1 439.6 L197.2 438.6 L197.4 437.6 L197.6 436.7 L197.7 435.7 L197.9 434.7 L198.1 433.7 L198.4 432.8 L198.6 431.8 L198.8 430.8 L199.1 429.8 L199.3 428.9 L199.6 427.9 L199.9 427.0 L200.2 426.0 L200.5 425.1 L200.8 424.1 L201.1 423.2 L201.4 422.2 L201.8 421.3 L202.1 420.4 L202.5 419.4 L202.8 418.5 L203.2 417.6 L203.6 416.7 L204.0 415.7 L204.4 414.8 L204.8 413.9 L205.3 413.0 L205.7 412.1 L206.1 411.2 L206.6 410.3 L207.0 409.4 L207.5 408.5 L208.0 407.6 L208.5 406.8 L209.0 405.9 L209.5 405.0 L210.0 404.1 L210.5 403.3 L211.0 402.4 L211.5 401.6 L212.1 400.7 L212.6 399.9 L213.2 399.0 L213.7 398.2 L214.3 397.3 L214.9 396.5 L215.5 395.7 L216.0 394.8 L216.6 394.0 L217.2 393.2 L217.8 392.4 L218.5 391.6 L219.1 390.8 L219.7 390.0 L220.3 389.1 L221.0 388.4 L221.6 387.6 L222.2 386.8 L222.9 386.0 L223.6 385.2 L224.2 384.4 L224.9 383.6 L225.6 382.9 L226.2 382.1 L226.9 381.3 L227.6 380.6 L228.3 379.8 L229.0 379.1 L229.7 378.3 L230.4 377.6 L231.1 376.8 L231.8 376.1 L232.5 375.3 L233.2 374.6 L233.9 373.9 L234.6 373.2 L235.4 372.4 L236.1 371.7 L236.8 371.0 L237.5 370.3 L238.3 369.6 L239.0 368.9 L239.7 368.2 L240.5 367.4 L241.2 366.8 L242.0 366.1 L242.7 365.4 L243.5 364.7 L244.2 364.0 L245.0 363.3 L245.7 362.6 L246.5 362.0 L247.2 361.3 L248.0 360.6 L248.7 359.9 L249.5 359.3 L250.2 358.6 L251.0 358.0 L251.8 357.3 L252.5 356.7 L253.3 356.0 L254.1 355.4 L254.8 354.7 L255.6 354.1 L256.4 353.5 L257.1 352.8 L257.9 352.2 L258.7 351.6 L259.5 351.0 L260.2 350.3 L261.0 349.7 L261.8 349.1 L262.6 348.5 L263.4 347.9 L264.2 347.3 L265.0 346.7 L265.8 346.1 L266.6 345.6 L267.4 345.0 L268.2 344.4 L269.0 343.8 L269.8 343.3 L270.6 342.7 L271.4 342.1 L272.2 341.6 L273.1 341.0 L273.9 340.5 L274.7 340.0 L275.6 339.4 L276.4 338.9 L277.2 338.4 L278.1 337.8 L278.9 337.3 L279.8 336.8 L280.6 336.3 L281.5 335.8 L282.3 335.3 L283.2 334.8 L284.1 334.3 L285.0 333.8 L285.8 333.4 L286.7 332.9 L287.6 332.4 L288.5 332.0 L289.4 331.5 L290.3 331.0 L291.2 330.6 L292.1 330.2 L293.0 329.7 L293.9 329.3 L294.9 328.9 L295.8 328.5 L296.7 328.0 L297.7 327.6 L298.6 327.2 L299.6 326.8 L300.5 326.4 L301.5 326.1 L302.4 325.7 L303.4 325.3" fill="none" stroke="#78bc78" stroke-width="0.9" clip-path="url(#clc)"/><path d="M76.20 356.20 L77.1 356.7 L78.0 357.1 L79.0 357.6 L79.9 358.1 L80.8 358.5 L81.7 359.0 L82.6 359.5 L83.5 359.9 L84.4 360.4 L85.3 360.8 L86.3 361.3 L87.2 361.7 L88.1 362.2 L89.0 362.6 L89.9 363.1 L90.8 363.5 L91.7 363.9 L92.6 364.4 L93.5 364.8 L94.4 365.2 L95.3 365.7 L96.2 366.1 L97.1 366.5 L98.0 367.0 L98.9 367.4 L99.9 367.8 L100.8 368.2 L101.7 368.7 L102.6 369.1 L103.5 369.5 L104.4 369.9 L105.3 370.3 L106.2 370.8 L107.1 371.2 L108.0 371.6 L108.9 372.0 L109.8 372.4 L110.7 372.8 L111.6 373.3 L112.5 373.7 L113.4 374.1 L114.3 374.5 L115.2 374.9 L116.1 375.3 L117.0 375.7 L117.9 376.2 L118.8 376.6 L119.7 377.0 L120.7 377.4 L121.6 377.8 L122.5 378.2 L123.4 378.7 L124.3 379.1 L125.2 379.5 L126.1 379.9 L127.0 380.3 L127.9 380.7 L128.9 381.2 L129.8 381.6 L130.7 382.0 L131.6 382.4 L132.5 382.9 L133.5 383.3 L134.4 383.7 L135.3 384.1 L136.2 384.6 L137.1 385.0 L138.1 385.4 L139.0 385.9 L139.9 386.3 L140.8 386.8 L141.8 387.2 L142.7 387.7 L143.6 388.1 L144.5 388.6 L145.4 389.0 L146.4 389.5 L147.3 390.0 L148.2 390.4 L149.1 390.9 L150.0 391.4 L150.9 391.9 L151.8 392.4 L152.7 392.9 L153.6 393.4 L154.5 393.9 L155.4 394.4 L156.3 394.9 L157.2 395.5 L158.1 396.0 L158.9 396.5 L159.8 397.1 L160.7 397.6 L161.6 398.2 L162.4 398.8 L163.3 399.4 L164.1 400.0 L165.0 400.6 L165.8 401.2 L166.6 401.8 L167.4 402.4 L168.3 403.0 L169.1 403.7 L169.8 404.3 L170.6 405.0 L171.4 405.7 L172.1 406.3 L172.9 407.0 L173.6 407.7 L174.3 408.5 L175.0 409.2 L175.7 409.9 L176.4 410.7 L177.1 411.4 L177.7 412.2 L178.3 412.9 L178.9 413.7 L179.6 414.5 L180.1 415.3 L180.7 416.1 L181.3 417.0 L181.8 417.8 L182.4 418.6 L182.9 419.5 L183.4 420.3 L183.9 421.2 L184.3 422.1 L184.8 422.9 L185.3 423.8 L185.7 424.7 L186.1 425.6 L186.5 426.5 L186.9 427.4 L187.3 428.3 L187.7 429.3 L188.0 430.2 L188.4 431.1 L188.7 432.1 L189.0 433.0 L189.3 434.0 L189.6 434.9 L189.9 435.9 L190.2 436.9 L190.4 437.8 L190.7 438.8 L190.9 439.8 L191.1 440.8 L191.3 441.7 L191.5 442.7 L191.7 443.7 L191.8 444.7 L192.0 445.7 L192.2 446.7 L192.3 447.7 L192.4 448.7 L192.6 449.7 L192.7 450.7 L192.8 451.7 L193.0 452.7 L193.1 453.7 L193.2 454.7 L193.3 455.7 L193.4 456.7 L193.5 457.7 L193.6 458.7 L193.7 459.7 L193.8 460.8 L193.8 461.8 L193.9 462.8 L194.0 463.8 L194.1 464.8 L194.1 465.8 L194.2 466.8 L194.3 467.8 L194.3 468.8 L194.4 469.8 L194.5 470.8 L194.5 471.8 L194.6 472.9 L194.6 473.9 L194.7 474.9 L194.7 475.9 L194.8 476.9 L194.8 477.9 L194.8 478.9 L194.9 479.9 L194.9 480.9 L195.0 481.9 L195.0 482.9 L195.0 483.9 L195.1 485.0 L195.1 486.0 L195.2 487.0 L195.2 488.0 L195.2 489.0 L195.3 490.0" fill="none" stroke="#f4a6a6" stroke-width="0.9" clip-path="url(#clc)"/><path d="M195.18 490.00 L195.3 489.0 L195.3 488.0 L195.4 487.0 L195.5 486.0 L195.5 485.0 L195.6 484.0 L195.6 483.0 L195.7 482.0 L195.8 481.0 L195.8 480.0 L195.9 478.9 L195.9 477.9 L196.0 476.9 L196.0 475.9 L196.1 474.9 L196.2 473.9 L196.2 472.9 L196.3 471.9 L196.3 470.9 L196.4 469.9 L196.5 468.9 L196.5 467.9 L196.6 466.9 L196.7 465.9 L196.7 464.9 L196.8 463.9 L196.9 462.9 L197.0 461.9 L197.0 460.9 L197.1 459.9 L197.2 458.9 L197.3 457.9 L197.4 456.9 L197.5 455.9 L197.6 454.9 L197.7 453.9 L197.8 452.9 L197.9 451.9 L198.0 450.9 L198.2 449.9 L198.3 448.9 L198.4 447.9 L198.6 446.9 L198.7 445.9 L198.8 444.9 L199.0 443.9 L199.1 442.9 L199.3 441.9 L199.5 440.9 L199.6 439.9 L199.8 438.9 L200.0 437.9 L200.2 436.9 L200.3 435.9 L200.5 434.9 L200.7 434.0 L200.9 433.0 L201.2 432.0 L201.4 431.0 L201.6 430.0 L201.8 429.1 L202.1 428.1 L202.4 427.1 L202.6 426.2 L202.9 425.2 L203.2 424.2 L203.5 423.3 L203.8 422.3 L204.1 421.4 L204.4 420.4 L204.7 419.5 L205.1 418.6 L205.4 417.6 L205.8 416.7 L206.2 415.8 L206.6 414.8 L207.0 413.9 L207.4 413.0 L207.8 412.1 L208.3 411.2 L208.7 410.3 L209.2 409.4 L209.6 408.5 L210.1 407.6 L210.6 406.8 L211.1 405.9 L211.6 405.0 L212.1 404.1 L212.6 403.3 L213.1 402.4 L213.7 401.6 L214.2 400.7 L214.7 399.9 L215.3 399.0 L215.8 398.2 L216.4 397.3 L217.0 396.5 L217.5 395.6 L218.1 394.8 L218.7 394.0 L219.2 393.2 L219.8 392.3 L220.4 391.5 L221.0 390.7 L221.6 389.9 L222.2 389.0 L222.8 388.2 L223.4 387.4 L224.0 386.6 L224.6 385.8 L225.2 385.0 L225.8 384.1 L226.4 383.3 L227.0 382.5 L227.6 381.7 L228.2 380.9 L228.8 380.1 L229.5 379.3 L230.1 378.5 L230.7 377.6 L231.3 376.8 L231.9 376.0 L232.5 375.2 L233.1 374.4 L233.7 373.6 L234.3 372.8 L234.9 371.9 L235.6 371.1 L236.2 370.3 L236.8 369.5 L237.4 368.7 L238.0 367.9 L238.6 367.1 L239.2 366.2 L239.8 365.4 L240.4 364.6 L241.0 363.8 L241.7 363.0 L242.3 362.2 L242.9 361.4 L243.5 360.6 L244.1 359.8 L244.7 359.0 L245.4 358.2 L246.0 357.4 L246.6 356.6 L247.2 355.8 L247.9 355.0 L248.5 354.2 L249.1 353.4 L249.8 352.6 L250.4 351.8 L251.0 351.1 L251.7 350.3 L252.3 349.5 L252.9 348.7 L253.6 347.9 L254.2 347.2 L254.9 346.4 L255.5 345.6 L256.2 344.9 L256.8 344.1 L257.5 343.4 L258.2 342.6 L258.8 341.9 L259.5 341.1 L260.2 340.4 L260.8 339.6 L261.5 338.9 L262.2 338.1 L262.9 337.4 L263.6 336.7 L264.3 336.0 L264.9 335.3 L265.6 334.5 L266.3 333.8 L267.0 333.1 L267.7 332.4 L268.5 331.7 L269.2 331.0 L269.9 330.3 L270.6 329.7 L271.3 329.0 L272.1 328.3 L272.8 327.6 L273.5 327.0 L274.3 326.3 L275.0 325.7 L275.8 325.0 L276.5 324.4 L277.3 323.7 L278.1 323.1 L278.8 322.5 L279.6 321.8 L280.4 321.2 L281.2 320.6 L282.0 320.0 L282.8 319.4 L283.6 318.8 L284.4 318.2 L285.2 317.7 L286.0 317.1 L286.8 316.5 L287.7 316.0 L288.5 315.4 L289.3 314.8 L290.2 314.3 L291.0 313.8 L291.9 313.2 L292.7 312.7 L293.6 312.2 L294.5 311.7 L295.4 311.2 L296.3 310.7 L297.2 310.2 L298.1 309.7 L299.0 309.3 L299.9 308.8 L300.8 308.4 L301.7 307.9 L302.7 307.5 L303.6 307.0 L304.5 306.6 L305.5 306.2" fill="none" stroke="#f4a6a6" stroke-width="0.9" clip-path="url(#clc)"/><path d="M195.20 482.00 L195.20 529.00" fill="none" stroke="#e87070" stroke-width="0.9" clip-path="url(#clc)"/><rect x="50.4" y="304.5" width="279.1" height="225.89999999999998" fill="none" stroke="#7a7a7a" stroke-width="1.2"/><path d="M51.70 530.4 v-1.4 M51.70 304.5 v1.4 M56.30 530.4 v-1.4 M56.30 304.5 v1.4 M60.90 530.4 v-1.4 M60.90 304.5 v1.4 M65.50 530.4 v-2.8 M65.50 304.5 v2.8 M70.10 530.4 v-1.4 M70.10 304.5 v1.4 M74.70 530.4 v-1.4 M74.70 304.5 v1.4 M79.30 530.4 v-1.4 M79.30 304.5 v1.4 M83.90 530.4 v-1.4 M83.90 304.5 v1.4 M88.50 530.4 v-2.8 M88.50 304.5 v2.8 M93.10 530.4 v-1.4 M93.10 304.5 v1.4 M97.70 530.4 v-1.4 M97.70 304.5 v1.4 M102.30 530.4 v-1.4 M102.30 304.5 v1.4 M106.90 530.4 v-1.4 M106.90 304.5 v1.4 M111.50 530.4 v-2.8 M111.50 304.5 v2.8 M116.10 530.4 v-1.4 M116.10 304.5 v1.4 M120.70 530.4 v-1.4 M120.70 304.5 v1.4 M125.30 530.4 v-1.4 M125.30 304.5 v1.4 M129.90 530.4 v-1.4 M129.90 304.5 v1.4 M134.50 530.4 v-2.8 M134.50 304.5 v2.8 M139.10 530.4 v-1.4 M139.10 304.5 v1.4 M143.70 530.4 v-1.4 M143.70 304.5 v1.4 M148.30 530.4 v-1.4 M148.30 304.5 v1.4 M152.90 530.4 v-1.4 M152.90 304.5 v1.4 M157.50 530.4 v-2.8 M157.50 304.5 v2.8 M162.10 530.4 v-1.4 M162.10 304.5 v1.4 M166.70 530.4 v-1.4 M166.70 304.5 v1.4 M171.30 530.4 v-1.4 M171.30 304.5 v1.4 M175.90 530.4 v-1.4 M175.90 304.5 v1.4 M180.50 530.4 v-2.8 M180.50 304.5 v2.8 M185.10 530.4 v-1.4 M185.10 304.5 v1.4 M189.70 530.4 v-1.4 M189.70 304.5 v1.4 M194.30 530.4 v-1.4 M194.30 304.5 v1.4 M198.90 530.4 v-1.4 M198.90 304.5 v1.4 M203.50 530.4 v-2.8 M203.50 304.5 v2.8 M208.10 530.4 v-1.4 M208.10 304.5 v1.4 M212.70 530.4 v-1.4 M212.70 304.5 v1.4 M217.30 530.4 v-1.4 M217.30 304.5 v1.4 M221.90 530.4 v-1.4 M221.90 304.5 v1.4 M226.50 530.4 v-2.8 M226.50 304.5 v2.8 M231.10 530.4 v-1.4 M231.10 304.5 v1.4 M235.70 530.4 v-1.4 M235.70 304.5 v1.4 M240.30 530.4 v-1.4 M240.30 304.5 v1.4 M244.90 530.4 v-1.4 M244.90 304.5 v1.4 M249.50 530.4 v-2.8 M249.50 304.5 v2.8 M254.10 530.4 v-1.4 M254.10 304.5 v1.4 M258.70 530.4 v-1.4 M258.70 304.5 v1.4 M263.30 530.4 v-1.4 M263.30 304.5 v1.4 M267.90 530.4 v-1.4 M267.90 304.5 v1.4 M272.50 530.4 v-2.8 M272.50 304.5 v2.8 M277.10 530.4 v-1.4 M277.10 304.5 v1.4 M281.70 530.4 v-1.4 M281.70 304.5 v1.4 M286.30 530.4 v-1.4 M286.30 304.5 v1.4 M290.90 530.4 v-1.4 M290.90 304.5 v1.4 M295.50 530.4 v-2.8 M295.50 304.5 v2.8 M300.10 530.4 v-1.4 M300.10 304.5 v1.4 M304.70 530.4 v-1.4 M304.70 304.5 v1.4 M309.30 530.4 v-1.4 M309.30 304.5 v1.4 M313.90 530.4 v-1.4 M313.90 304.5 v1.4 M318.50 530.4 v-2.8 M318.50 304.5 v2.8 M323.10 530.4 v-1.4 M323.10 304.5 v1.4 M327.70 530.4 v-1.4 M327.70 304.5 v1.4 M50.4 528.69 h1.4 M329.5 528.69 h-1.4 M50.4 524.46 h1.4 M329.5 524.46 h-1.4 M50.4 520.99 h1.4 M329.5 520.99 h-1.4 M50.4 518.07 h1.4 M329.5 518.07 h-1.4 M50.4 515.53 h1.4 M329.5 515.53 h-1.4 M50.4 513.30 h1.4 M329.5 513.30 h-1.4 M50.4 511.30 h2.8 M329.5 511.30 h-2.8 M50.4 498.14 h1.4 M329.5 498.14 h-1.4 M50.4 490.45 h1.4 M329.5 490.45 h-1.4 M50.4 484.99 h1.4 M329.5 484.99 h-1.4 M50.4 480.76 h1.4 M329.5 480.76 h-1.4 M50.4 477.29 h1.4 M329.5 477.29 h-1.4 M50.4 474.37 h1.4 M329.5 474.37 h-1.4 M50.4 471.83 h1.4 M329.5 471.83 h-1.4 M50.4 469.60 h1.4 M329.5 469.60 h-1.4 M50.4 467.60 h2.8 M329.5 467.60 h-2.8 M50.4 454.44 h1.4 M329.5 454.44 h-1.4 M50.4 446.75 h1.4 M329.5 446.75 h-1.4 M50.4 441.29 h1.4 M329.5 441.29 h-1.4 M50.4 437.06 h1.4 M329.5 437.06 h-1.4 M50.4 433.59 h1.4 M329.5 433.59 h-1.4 M50.4 430.67 h1.4 M329.5 430.67 h-1.4 M50.4 428.13 h1.4 M329.5 428.13 h-1.4 M50.4 425.90 h1.4 M329.5 425.90 h-1.4 M50.4 423.90 h2.8 M329.5 423.90 h-2.8 M50.4 410.74 h1.4 M329.5 410.74 h-1.4 M50.4 403.05 h1.4 M329.5 403.05 h-1.4 M50.4 397.59 h1.4 M329.5 397.59 h-1.4 M50.4 393.36 h1.4 M329.5 393.36 h-1.4 M50.4 389.89 h1.4 M329.5 389.89 h-1.4 M50.4 386.97 h1.4 M329.5 386.97 h-1.4 M50.4 384.43 h1.4 M329.5 384.43 h-1.4 M50.4 382.20 h1.4 M329.5 382.20 h-1.4 M50.4 380.20 h2.8 M329.5 380.20 h-2.8 M50.4 367.04 h1.4 M329.5 367.04 h-1.4 M50.4 359.35 h1.4 M329.5 359.35 h-1.4 M50.4 353.89 h1.4 M329.5 353.89 h-1.4 M50.4 349.66 h1.4 M329.5 349.66 h-1.4 M50.4 346.19 h1.4 M329.5 346.19 h-1.4 M50.4 343.27 h1.4 M329.5 343.27 h-1.4 M50.4 340.73 h1.4 M329.5 340.73 h-1.4 M50.4 338.50 h1.4 M329.5 338.50 h-1.4 M50.4 336.50 h2.8 M329.5 336.50 h-2.8 M50.4 323.34 h1.4 M329.5 323.34 h-1.4 M50.4 315.65 h1.4 M329.5 315.65 h-1.4 M50.4 310.19 h1.4 M329.5 310.19 h-1.4 M50.4 305.96 h1.4 M329.5 305.96 h-1.4" stroke="#6a6a6a" stroke-width="1.1" fill="none"/><text transform="translate(64.75 541.00) scale(0.93 1)" class="tl" text-anchor="middle">-<tspan dx="0.95">0.7</tspan></text><text transform="translate(87.75 541.00) scale(0.93 1)" class="tl" text-anchor="middle">-<tspan dx="0.95">0.65</tspan></text><text transform="translate(110.75 541.00) scale(0.93 1)" class="tl" text-anchor="middle">-<tspan dx="0.95">0.6</tspan></text><text transform="translate(133.75 541.00) scale(0.93 1)" class="tl" text-anchor="middle">-<tspan dx="0.95">0.55</tspan></text><text transform="translate(156.75 541.00) scale(0.93 1)" class="tl" text-anchor="middle">-<tspan dx="0.95">0.5</tspan></text><text transform="translate(179.75 541.00) scale(0.93 1)" class="tl" text-anchor="middle">-<tspan dx="0.95">0.45</tspan></text><text transform="translate(202.75 541.00) scale(0.93 1)" class="tl" text-anchor="middle">-<tspan dx="0.95">0.4</tspan></text><text transform="translate(225.75 541.00) scale(0.93 1)" class="tl" text-anchor="middle">-<tspan dx="0.95">0.35</tspan></text><text transform="translate(248.75 541.00) scale(0.93 1)" class="tl" text-anchor="middle">-<tspan dx="0.95">0.3</tspan></text><text transform="translate(271.75 541.00) scale(0.93 1)" class="tl" text-anchor="middle">-<tspan dx="0.95">0.25</tspan></text><text transform="translate(294.75 541.00) scale(0.93 1)" class="tl" text-anchor="middle">-<tspan dx="0.95">0.2</tspan></text><text transform="translate(317.75 541.00) scale(0.93 1)" class="tl" text-anchor="middle">-<tspan dx="0.95">0.15</tspan></text><text transform="translate(45.80 339.20) scale(0.93 1)" class="tl" text-anchor="end">0.01</text><text transform="translate(45.80 382.90) scale(0.93 1)" class="tl" text-anchor="end">0.001</text><text transform="translate(45.80 426.60) scale(0.93 1)" class="tl" text-anchor="end">0.0001</text><text transform="translate(45.80 470.30) scale(0.93 1)" class="tl" text-anchor="end">1E-5</text><text transform="translate(45.80 514.00) scale(0.93 1)" class="tl" text-anchor="end">1E-6</text><text x="180.5" y="298.1" class="ti" text-anchor="middle">(c)</text><text x="172.0" y="326.7" class="tm">45 °C</text><text x="158.0" y="554.6" class="al">E/ (V vs. Ag/AgCl)</text><text transform="translate(10.0 461.7) rotate(-90)" class="al">log I<tspan class="sub" dy="1.4">corr</tspan><tspan dy="-1.4"> / (A cm</tspan><tspan class="sub" dy="-3.5">-2</tspan><tspan dy="3.5">)</tspan></text><line x1="262.1" x2="270.7" y1="490.4" y2="490.4" stroke="#555555" stroke-width="1"/><text x="278.8" y="494.6" class="lg" textLength="29.0" lengthAdjust="spacingAndGlyphs">5% HCl</text><line x1="262.1" x2="269.5" y1="502.7" y2="502.7" stroke="#78bc78" stroke-width="1" stroke-dasharray="1.6 0.7"/><text x="276.5" y="504.5" class="lg" textLength="32.7" lengthAdjust="spacingAndGlyphs">0.01 mM</text><line x1="262.1" x2="269.0" y1="513.3" y2="513.3" stroke="#f4a6a6" stroke-width="1"/><text x="278.8" y="514.9" class="lg" textLength="25.8" lengthAdjust="spacingAndGlyphs">20 mM</text></g>
<g><clipPath id="cld"><rect x="399.6" y="304.4" width="280.1" height="225.89999999999998"/></clipPath><path d="M444.20 327.30 L445.0 327.8 L445.8 328.3 L446.6 328.8 L447.4 329.3 L448.2 329.9 L449.0 330.4 L449.8 330.9 L450.6 331.4 L451.5 332.0 L452.3 332.5 L453.1 333.0 L454.0 333.6 L454.8 334.1 L455.6 334.7 L456.5 335.2 L457.3 335.8 L458.2 336.3 L459.0 336.9 L459.9 337.4 L460.7 338.0 L461.6 338.6 L462.4 339.1 L463.3 339.7 L464.1 340.3 L465.0 340.9 L465.8 341.5 L466.7 342.0 L467.5 342.6 L468.4 343.2 L469.2 343.8 L470.1 344.4 L470.9 345.0 L471.8 345.7 L472.6 346.3 L473.5 346.9 L474.3 347.5 L475.2 348.1 L476.0 348.8 L476.8 349.4 L477.6 350.1 L478.5 350.7 L479.3 351.3 L480.1 352.0 L480.9 352.7 L481.7 353.3 L482.5 354.0 L483.3 354.7 L484.1 355.3 L484.9 356.0 L485.7 356.7 L486.5 357.4 L487.2 358.1 L488.0 358.8 L488.7 359.5 L489.5 360.2 L490.2 360.9 L491.0 361.6 L491.7 362.4 L492.4 363.1 L493.1 363.8 L493.8 364.6 L494.5 365.3 L495.2 366.1 L495.9 366.8 L496.6 367.6 L497.2 368.4 L497.9 369.1 L498.5 369.9 L499.2 370.7 L499.8 371.5 L500.4 372.3 L501.0 373.1 L501.6 373.9 L502.2 374.7 L502.7 375.5 L503.3 376.3 L503.8 377.2 L504.4 378.0 L504.9 378.9 L505.4 379.7 L505.9 380.6 L506.4 381.4 L506.8 382.3 L507.3 383.2 L507.7 384.0 L508.2 384.9 L508.6 385.8 L509.0 386.7 L509.4 387.6 L509.8 388.5 L510.1 389.4 L510.5 390.3 L510.8 391.3 L511.2 392.2 L511.5 393.1 L511.8 394.1 L512.1 395.0 L512.4 396.0 L512.7 396.9 L512.9 397.9 L513.2 398.8 L513.5 399.8 L513.7 400.7 L513.9 401.7 L514.2 402.7 L514.4 403.7 L514.6 404.6 L514.8 405.6 L515.0 406.6 L515.1 407.6 L515.3 408.6 L515.5 409.5 L515.7 410.5 L515.8 411.5 L516.0 412.5 L516.1 413.5 L516.2 414.5 L516.4 415.5 L516.5 416.5 L516.6 417.5 L516.7 418.5 L516.8 419.5 L516.9 420.5 L517.0 421.5 L517.1 422.5 L517.2 423.5 L517.3 424.5 L517.4 425.5 L517.4 426.5 L517.5 427.5 L517.6 428.5 L517.6 429.5 L517.7 430.5 L517.7 431.5 L517.8 432.6 L517.8 433.6 L517.9 434.6 L517.9 435.6 L518.0 436.6 L518.0 437.6 L518.0 438.6 L518.1 439.6 L518.1 440.6 L518.1 441.6 L518.2 442.6 L518.2 443.6 L518.2 444.7 L518.2 445.7 L518.3 446.7 L518.3 447.7 L518.3 448.7 L518.3 449.7 L518.3 450.7 L518.4 451.7 L518.4 452.7 L518.4 453.7 L518.4 454.7 L518.4 455.7 L518.4 456.7 L518.4 457.7 L518.5 458.8 L518.5 459.8 L518.5 460.8 L518.5 461.8 L518.5 462.8 L518.5 463.8 L518.5 464.8 L518.5 465.8 L518.5 466.8 L518.5 467.8 L518.5 468.8 L518.6 469.8 L518.6 470.8 L518.6 471.8 L518.6 472.8 L518.6 473.8 L518.6 474.9 L518.6 475.9 L518.6 476.9 L518.6 477.9 L518.6 478.9 L518.6 479.9 L518.6 480.9 L518.6 481.9 L518.6 482.9 L518.6 483.9 L518.6 484.9 L518.6 485.9 L518.6 486.9 L518.6 487.9 L518.6 488.9 L518.6 490.0 L518.6 491.0 L518.6 492.0 L518.6 493.0 L518.6 494.0 L518.6 495.0 L518.6 496.0 L518.6 497.0 L518.7 498.0 L518.7 499.0 L518.7 500.0 L518.7 501.0 L518.7 502.0 L518.7 503.0 L518.7 504.1 L518.7 505.1 L518.7 506.1 L518.7 507.1 L518.7 508.1 L518.7 509.1 L518.7 510.1" fill="none" stroke="#555555" stroke-width="0.9" clip-path="url(#cld)"/><path d="M518.66 510.09 L518.7 509.1 L518.7 508.1 L518.7 507.1 L518.7 506.1 L518.7 505.1 L518.7 504.1 L518.7 503.0 L518.7 502.0 L518.7 501.0 L518.8 500.0 L518.8 499.0 L518.8 498.0 L518.8 497.0 L518.8 496.0 L518.8 495.0 L518.8 494.0 L518.8 493.0 L518.8 492.0 L518.8 491.0 L518.8 490.0 L518.8 488.9 L518.8 487.9 L518.8 486.9 L518.8 485.9 L518.8 484.9 L518.8 483.9 L518.8 482.9 L518.8 481.9 L518.8 480.9 L518.8 479.9 L518.8 478.9 L518.8 477.9 L518.8 476.9 L518.8 475.8 L518.8 474.8 L518.8 473.8 L518.8 472.8 L518.8 471.8 L518.8 470.8 L518.8 469.8 L518.8 468.8 L518.8 467.8 L518.8 466.8 L518.8 465.8 L518.8 464.8 L518.8 463.7 L518.8 462.7 L518.8 461.7 L518.8 460.7 L518.8 459.7 L518.8 458.7 L518.8 457.7 L518.8 456.7 L518.8 455.7 L518.8 454.7 L518.8 453.7 L518.8 452.7 L518.8 451.7 L518.8 450.7 L518.8 449.6 L518.8 448.6 L518.8 447.6 L518.8 446.6 L518.8 445.6 L518.8 444.6 L518.9 443.6 L518.9 442.6 L518.9 441.6 L518.9 440.6 L518.9 439.6 L518.9 438.6 L518.9 437.6 L519.0 436.6 L519.0 435.6 L519.0 434.6 L519.0 433.6 L519.0 432.6 L519.1 431.6 L519.1 430.5 L519.1 429.5 L519.1 428.5 L519.2 427.5 L519.2 426.5 L519.3 425.5 L519.3 424.5 L519.3 423.5 L519.4 422.5 L519.4 421.5 L519.5 420.4 L519.6 419.4 L519.6 418.4 L519.7 417.4 L519.8 416.4 L519.9 415.4 L520.0 414.4 L520.1 413.4 L520.2 412.4 L520.3 411.4 L520.4 410.4 L520.6 409.4 L520.7 408.4 L520.9 407.4 L521.0 406.4 L521.2 405.4 L521.4 404.4 L521.6 403.5 L521.8 402.5 L522.1 401.5 L522.3 400.6 L522.6 399.6 L522.8 398.7 L523.1 397.7 L523.4 396.8 L523.7 395.8 L524.0 394.9 L524.3 393.9 L524.7 393.0 L525.0 392.1 L525.3 391.2 L525.7 390.3 L526.1 389.3 L526.5 388.4 L526.8 387.5 L527.2 386.6 L527.7 385.7 L528.1 384.8 L528.5 383.9 L528.9 383.1 L529.4 382.2 L529.8 381.3 L530.3 380.4 L530.8 379.5 L531.2 378.7 L531.7 377.8 L532.2 377.0 L532.7 376.1 L533.2 375.2 L533.8 374.4 L534.3 373.5 L534.8 372.7 L535.4 371.9 L535.9 371.0 L536.5 370.2 L537.0 369.4 L537.6 368.5 L538.2 367.7 L538.8 366.9 L539.4 366.1 L540.0 365.2 L540.6 364.4 L541.2 363.6 L541.8 362.8 L542.4 362.0 L543.0 361.2 L543.7 360.4 L544.3 359.6 L545.0 358.8 L545.6 358.1 L546.3 357.3 L546.9 356.5 L547.6 355.7 L548.3 354.9 L548.9 354.2 L549.6 353.4 L550.3 352.6 L551.0 351.9 L551.7 351.1 L552.4 350.3 L553.1 349.6 L553.8 348.8 L554.5 348.1 L555.2 347.3 L555.9 346.6 L556.6 345.9 L557.3 345.1 L558.1 344.4 L558.8 343.7 L559.5 342.9 L560.3 342.2 L561.0 341.5 L561.7 340.7 L562.5 340.0 L563.2 339.3 L564.0 338.6 L564.7 337.9 L565.5 337.2 L566.2 336.5 L567.0 335.7 L567.7 335.0 L568.5 334.3 L569.2 333.6 L570.0 332.9 L570.8 332.2 L571.5 331.6 L572.3 330.9 L573.0 330.2 L573.8 329.5 L574.6 328.8 L575.3 328.1 L576.1 327.4 L576.8 326.8 L577.6 326.1 L578.4 325.4 L579.1 324.7 L579.9 324.1 L580.7 323.4 L581.4 322.7 L582.2 322.1 L582.9 321.4 L583.7 320.8 L584.5 320.1 L585.2 319.4 L586.0 318.8 L586.7 318.1 L587.5 317.5 L588.2 316.8 L589.0 316.2 L589.7 315.5 L590.5 314.9 L591.2 314.3 L591.9 313.6 L592.7 313.0 L593.4 312.3 L594.1 311.7 L594.9 311.1 L595.6 310.4 L596.3 309.8" fill="none" stroke="#555555" stroke-width="0.9" clip-path="url(#cld)"/><path d="M422.90 354.10 L423.8 354.6 L424.7 355.1 L425.6 355.6 L426.4 356.2 L427.3 356.7 L428.2 357.2 L429.1 357.7 L429.9 358.2 L430.8 358.7 L431.7 359.3 L432.5 359.8 L433.4 360.3 L434.2 360.8 L435.1 361.4 L436.0 361.9 L436.8 362.4 L437.6 362.9 L438.5 363.5 L439.3 364.0 L440.2 364.5 L441.0 365.0 L441.9 365.6 L442.7 366.1 L443.6 366.6 L444.4 367.2 L445.2 367.7 L446.1 368.2 L446.9 368.7 L447.8 369.3 L448.6 369.8 L449.4 370.3 L450.3 370.8 L451.1 371.4 L452.0 371.9 L452.8 372.4 L453.7 372.9 L454.5 373.4 L455.3 373.9 L456.2 374.5 L457.0 375.0 L457.9 375.5 L458.7 376.0 L459.6 376.5 L460.5 377.0 L461.3 377.5 L462.2 378.0 L463.0 378.5 L463.9 379.0 L464.8 379.5 L465.7 380.0 L466.5 380.5 L467.4 381.0 L468.3 381.5 L469.2 382.0 L470.1 382.5 L471.0 383.0 L471.9 383.4 L472.7 383.9 L473.6 384.4 L474.5 384.9 L475.4 385.4 L476.3 385.8 L477.2 386.3 L478.1 386.8 L479.0 387.3 L480.0 387.8 L480.9 388.2 L481.8 388.7 L482.7 389.2 L483.6 389.7 L484.5 390.2 L485.4 390.7 L486.3 391.2 L487.2 391.6 L488.1 392.1 L489.0 392.6 L489.8 393.1 L490.7 393.6 L491.6 394.1 L492.5 394.6 L493.4 395.2 L494.3 395.7 L495.2 396.2 L496.0 396.7 L496.9 397.2 L497.8 397.8 L498.6 398.3 L499.5 398.8 L500.4 399.4 L501.2 399.9 L502.1 400.5 L502.9 401.0 L503.7 401.6 L504.6 402.2 L505.4 402.8 L506.2 403.3 L507.0 403.9 L507.8 404.5 L508.6 405.1 L509.4 405.8 L510.2 406.4 L511.0 407.0 L511.8 407.6 L512.6 408.3 L513.3 408.9 L514.1 409.6 L514.8 410.2 L515.6 410.9 L516.3 411.6 L517.0 412.3 L517.7 413.0 L518.4 413.7 L519.1 414.4 L519.8 415.2 L520.5 415.9 L521.2 416.6 L521.8 417.4 L522.5 418.1 L523.1 418.9 L523.8 419.7 L524.4 420.4 L525.0 421.2 L525.6 422.0 L526.2 422.8 L526.8 423.6 L527.4 424.4 L527.9 425.3 L528.5 426.1 L529.1 426.9 L529.6 427.8 L530.1 428.6 L530.6 429.5 L531.1 430.3 L531.6 431.2 L532.1 432.0 L532.6 432.9 L533.1 433.8 L533.5 434.7 L533.9 435.6 L534.4 436.5 L534.8 437.4 L535.2 438.3 L535.6 439.2 L536.0 440.1 L536.3 441.0 L536.7 442.0 L537.0 442.9 L537.4 443.8 L537.7 444.8 L538.0 445.7 L538.3 446.7 L538.6 447.6 L538.9 448.6 L539.1 449.6 L539.4 450.5 L539.6 451.5 L539.8 452.5 L540.0 453.4 L540.2 454.4 L540.4 455.4 L540.6 456.4 L540.7 457.4 L540.9 458.4 L541.0 459.4 L541.1 460.4 L541.2 461.4 L541.3 462.4 L541.4 463.4 L541.5 464.4 L541.6 465.4 L541.6 466.4 L541.7 467.4 L541.8 468.4 L541.8 469.4 L541.9 470.4 L541.9 471.4 L542.0 472.4 L542.0 473.4 L542.1 474.4 L542.1 475.4 L542.1 476.4 L542.2 477.4 L542.2 478.4 L542.2 479.4 L542.2 480.4 L542.3 481.4 L542.3 482.5 L542.3 483.5 L542.3 484.5 L542.3 485.5 L542.4 486.5 L542.4 487.5 L542.4 488.5 L542.4 489.5 L542.4 490.5 L542.4 491.5 L542.4 492.5 L542.4 493.5 L542.4 494.5 L542.4 495.5 L542.4 496.5 L542.4 497.5 L542.5 498.5 L542.5 499.5 L542.5 500.5 L542.5 501.5 L542.5 502.6 L542.5 503.6 L542.5 504.6 L542.5 505.6 L542.5 506.6 L542.5 507.6 L542.6 508.6 L542.6 509.6 L542.6 510.6 L542.6 511.6" fill="none" stroke="#78bc78" stroke-width="0.9" clip-path="url(#cld)"/><path d="M542.55 511.56 L542.6 510.6 L542.6 509.6 L542.7 508.6 L542.7 507.6 L542.7 506.6 L542.7 505.6 L542.8 504.6 L542.8 503.6 L542.8 502.6 L542.8 501.6 L542.8 500.6 L542.9 499.6 L542.9 498.6 L542.9 497.6 L542.9 496.5 L542.9 495.5 L542.9 494.5 L543.0 493.5 L543.0 492.5 L543.0 491.5 L543.0 490.5 L543.0 489.5 L543.1 488.5 L543.1 487.5 L543.1 486.5 L543.1 485.5 L543.2 484.5 L543.2 483.5 L543.2 482.5 L543.2 481.4 L543.3 480.4 L543.3 479.4 L543.4 478.4 L543.4 477.4 L543.5 476.4 L543.5 475.4 L543.6 474.4 L543.6 473.4 L543.7 472.4 L543.7 471.4 L543.8 470.4 L543.9 469.4 L544.0 468.4 L544.1 467.4 L544.1 466.4 L544.2 465.4 L544.3 464.4 L544.4 463.4 L544.6 462.4 L544.7 461.4 L544.8 460.4 L544.9 459.4 L545.1 458.4 L545.2 457.4 L545.4 456.4 L545.5 455.4 L545.7 454.4 L545.8 453.5 L546.0 452.5 L546.2 451.5 L546.4 450.5 L546.6 449.5 L546.8 448.5 L547.0 447.6 L547.2 446.6 L547.4 445.6 L547.7 444.6 L547.9 443.7 L548.2 442.7 L548.4 441.7 L548.7 440.8 L548.9 439.8 L549.2 438.8 L549.5 437.9 L549.8 436.9 L550.1 436.0 L550.3 435.0 L550.7 434.0 L551.0 433.1 L551.3 432.1 L551.6 431.2 L551.9 430.2 L552.3 429.3 L552.6 428.4 L553.0 427.4 L553.3 426.5 L553.7 425.6 L554.0 424.6 L554.4 423.7 L554.8 422.8 L555.2 421.8 L555.6 420.9 L556.0 420.0 L556.4 419.1 L556.8 418.2 L557.2 417.3 L557.6 416.4 L558.1 415.5 L558.5 414.5 L558.9 413.7 L559.4 412.8 L559.8 411.9 L560.3 411.0 L560.8 410.1 L561.2 409.2 L561.7 408.3 L562.2 407.4 L562.7 406.6 L563.2 405.7 L563.7 404.8 L564.2 404.0 L564.7 403.1 L565.2 402.2 L565.7 401.4 L566.3 400.5 L566.8 399.7 L567.3 398.8 L567.9 398.0 L568.4 397.1 L569.0 396.3 L569.5 395.5 L570.1 394.7 L570.7 393.8 L571.3 393.0 L571.8 392.2 L572.4 391.4 L573.0 390.6 L573.6 389.8 L574.2 389.0 L574.8 388.2 L575.4 387.4 L576.1 386.6 L576.7 385.8 L577.3 385.0 L577.9 384.2 L578.6 383.4 L579.2 382.6 L579.8 381.8 L580.5 381.0 L581.1 380.3 L581.7 379.5 L582.4 378.7 L583.0 377.9 L583.7 377.2 L584.3 376.4 L585.0 375.6 L585.6 374.8 L586.3 374.1 L586.9 373.3 L587.6 372.5 L588.2 371.8 L588.9 371.0 L589.5 370.2 L590.2 369.5 L590.9 368.7 L591.5 367.9 L592.2 367.1 L592.8 366.4 L593.5 365.6 L594.1 364.8 L594.8 364.1 L595.4 363.3 L596.1 362.5 L596.7 361.7 L597.4 361.0 L598.0 360.2 L598.7 359.4 L599.3 358.6 L599.9 357.9 L600.6 357.1 L601.2 356.3 L601.9 355.5 L602.5 354.8 L603.2 354.0 L603.8 353.2 L604.4 352.4 L605.1 351.7 L605.7 350.9 L606.4 350.1 L607.0 349.3 L607.6 348.6 L608.3 347.8 L608.9 347.0 L609.6 346.2 L610.2 345.5 L610.8 344.7 L611.5 343.9 L612.1 343.2 L612.8 342.4 L613.4 341.6 L614.0 340.8 L614.7 340.1 L615.3 339.3 L616.0 338.5 L616.6 337.8 L617.3 337.0 L617.9 336.3 L618.6 335.5 L619.2 334.7 L619.9 334.0 L620.5 333.2 L621.2 332.5 L621.8 331.8 L622.5 331.0 L623.2 330.3 L623.8 329.5 L624.5 328.8 L625.2 328.1 L625.9 327.4 L626.6 326.6 L627.3 325.9 L628.0 325.2 L628.7 324.5 L629.4 323.8 L630.1 323.1 L630.8 322.4 L631.5 321.7 L632.2 321.1 L632.9 320.4 L633.7 319.7 L634.4 319.1 L635.2 318.4 L635.9 317.8 L636.7 317.1 L637.4 316.5 L638.2 315.8 L639.0 315.2 L639.8 314.6 L640.6 314.0 L641.4 313.4 L642.2 312.8 L643.0 312.2 L643.8 311.6 L644.6 311.1 L645.5 310.5 L646.3 309.9 L647.2 309.4 L648.0 308.9 L648.9 308.3 L649.8 307.8 L650.7 307.3 L651.6 306.8" fill="none" stroke="#78bc78" stroke-width="0.9" clip-path="url(#cld)"/><path d="M426.40 368.90 L427.3 369.5 L428.1 370.0 L429.0 370.6 L429.9 371.1 L430.7 371.7 L431.6 372.2 L432.5 372.7 L433.3 373.3 L434.2 373.8 L435.1 374.3 L435.9 374.8 L436.8 375.3 L437.7 375.8 L438.5 376.3 L439.4 376.8 L440.3 377.3 L441.2 377.8 L442.0 378.3 L442.9 378.7 L443.8 379.2 L444.7 379.7 L445.5 380.1 L446.4 380.6 L447.3 381.1 L448.2 381.5 L449.0 382.0 L449.9 382.4 L450.8 382.9 L451.7 383.3 L452.6 383.8 L453.5 384.2 L454.4 384.6 L455.2 385.1 L456.1 385.5 L457.0 386.0 L457.9 386.4 L458.8 386.8 L459.7 387.2 L460.6 387.7 L461.5 388.1 L462.4 388.5 L463.3 389.0 L464.2 389.4 L465.1 389.8 L466.0 390.2 L466.9 390.7 L467.8 391.1 L468.7 391.5 L469.6 392.0 L470.5 392.4 L471.4 392.8 L472.3 393.3 L473.2 393.7 L474.1 394.1 L475.0 394.6 L475.9 395.0 L476.8 395.4 L477.7 395.9 L478.6 396.3 L479.6 396.8 L480.5 397.2 L481.4 397.7 L482.3 398.1 L483.2 398.6 L484.1 399.0 L485.1 399.5 L486.0 399.9 L486.9 400.4 L487.8 400.9 L488.7 401.3 L489.6 401.8 L490.5 402.3 L491.5 402.8 L492.4 403.3 L493.3 403.8 L494.2 404.3 L495.1 404.8 L496.0 405.3 L496.9 405.8 L497.8 406.3 L498.7 406.8 L499.6 407.3 L500.4 407.8 L501.3 408.4 L502.2 408.9 L503.1 409.4 L503.9 410.0 L504.8 410.5 L505.7 411.1 L506.5 411.7 L507.4 412.2 L508.2 412.8 L509.0 413.4 L509.9 414.0 L510.7 414.6 L511.5 415.2 L512.3 415.8 L513.2 416.4 L514.0 417.0 L514.8 417.6 L515.5 418.2 L516.3 418.9 L517.1 419.5 L517.9 420.2 L518.6 420.8 L519.4 421.5 L520.1 422.2 L520.8 422.9 L521.6 423.6 L522.3 424.3 L523.0 425.0 L523.7 425.7 L524.4 426.4 L525.1 427.1 L525.7 427.9 L526.4 428.6 L527.0 429.4 L527.7 430.1 L528.3 430.9 L528.9 431.7 L529.5 432.5 L530.1 433.3 L530.7 434.1 L531.3 434.9 L531.9 435.7 L532.4 436.6 L533.0 437.4 L533.5 438.2 L534.0 439.1 L534.5 439.9 L535.0 440.8 L535.5 441.7 L536.0 442.6 L536.4 443.4 L536.9 444.3 L537.3 445.2 L537.7 446.1 L538.1 447.0 L538.6 447.9 L538.9 448.9 L539.3 449.8 L539.7 450.7 L540.0 451.6 L540.4 452.6 L540.7 453.5 L541.0 454.5 L541.3 455.4 L541.6 456.4 L541.9 457.3 L542.1 458.3 L542.4 459.3 L542.6 460.3 L542.8 461.2 L543.0 462.2 L543.2 463.2 L543.4 464.2 L543.5 465.2 L543.7 466.2 L543.8 467.1 L544.0 468.1 L544.1 469.1 L544.2 470.1 L544.3 471.1 L544.4 472.1 L544.5 473.1 L544.5 474.1 L544.6 475.2 L544.7 476.2 L544.7 477.2 L544.8 478.2 L544.9 479.2 L544.9 480.2 L545.0 481.2 L545.0 482.2 L545.1 483.2 L545.1 484.2 L545.1 485.2 L545.2 486.2 L545.2 487.2 L545.3 488.2 L545.3 489.2 L545.3 490.2 L545.3 491.2 L545.4 492.3 L545.4 493.3 L545.4 494.3 L545.4 495.3 L545.5 496.3 L545.5 497.3 L545.5 498.3 L545.5 499.3 L545.6 500.3 L545.6 501.3 L545.6 502.3 L545.6 503.3 L545.6 504.3 L545.6 505.3 L545.6 506.3 L545.7 507.4 L545.7 508.4 L545.7 509.4 L545.7 510.4 L545.7 511.4 L545.7 512.4 L545.8 513.4 L545.8 514.4 L545.8 515.4 L545.8 516.4 L545.8 517.4 L545.8 518.4 L545.9 519.4 L545.9 520.4 L545.9 521.4 L545.9 522.4 L545.9 523.5 L546.0 524.5 L546.0 525.5 L546.0 526.5 L546.0 527.5 L546.1 528.5 L546.1 529.5 L546.1 530.5" fill="none" stroke="#f4a6a6" stroke-width="0.9" clip-path="url(#cld)"/><path d="M546.10 530.50 L546.1 529.5 L546.1 528.5 L546.2 527.5 L546.2 526.5 L546.2 525.5 L546.2 524.5 L546.2 523.5 L546.3 522.4 L546.3 521.4 L546.3 520.4 L546.3 519.4 L546.3 518.4 L546.4 517.4 L546.4 516.4 L546.4 515.4 L546.4 514.4 L546.5 513.4 L546.5 512.4 L546.5 511.4 L546.5 510.4 L546.6 509.4 L546.6 508.4 L546.6 507.4 L546.6 506.4 L546.7 505.4 L546.7 504.3 L546.7 503.3 L546.8 502.3 L546.8 501.3 L546.8 500.3 L546.9 499.3 L546.9 498.3 L546.9 497.3 L547.0 496.3 L547.0 495.3 L547.1 494.3 L547.1 493.3 L547.2 492.3 L547.2 491.3 L547.3 490.3 L547.3 489.3 L547.4 488.3 L547.4 487.3 L547.5 486.3 L547.5 485.2 L547.6 484.2 L547.7 483.2 L547.7 482.2 L547.8 481.2 L547.9 480.2 L547.9 479.2 L548.0 478.2 L548.1 477.2 L548.2 476.2 L548.3 475.2 L548.4 474.2 L548.5 473.2 L548.6 472.2 L548.7 471.2 L548.8 470.2 L548.9 469.2 L549.1 468.2 L549.2 467.2 L549.4 466.2 L549.5 465.2 L549.7 464.2 L549.8 463.2 L550.0 462.2 L550.2 461.3 L550.4 460.3 L550.6 459.3 L550.8 458.3 L551.0 457.3 L551.2 456.4 L551.4 455.4 L551.7 454.4 L551.9 453.4 L552.2 452.5 L552.4 451.5 L552.7 450.5 L552.9 449.6 L553.2 448.6 L553.5 447.6 L553.8 446.7 L554.0 445.7 L554.3 444.8 L554.6 443.8 L555.0 442.8 L555.3 441.9 L555.6 441.0 L555.9 440.0 L556.3 439.1 L556.6 438.1 L556.9 437.2 L557.3 436.2 L557.7 435.3 L558.0 434.4 L558.4 433.5 L558.8 432.5 L559.2 431.6 L559.6 430.7 L560.0 429.8 L560.4 428.8 L560.8 427.9 L561.2 427.0 L561.6 426.1 L562.0 425.2 L562.5 424.3 L562.9 423.4 L563.3 422.5 L563.8 421.6 L564.3 420.7 L564.7 419.8 L565.2 418.9 L565.7 418.0 L566.1 417.1 L566.6 416.3 L567.1 415.4 L567.6 414.5 L568.1 413.6 L568.6 412.8 L569.1 411.9 L569.6 411.0 L570.2 410.2 L570.7 409.3 L571.2 408.4 L571.8 407.6 L572.3 406.7 L572.9 405.9 L573.4 405.0 L574.0 404.2 L574.5 403.4 L575.1 402.5 L575.7 401.7 L576.2 400.8 L576.8 400.0 L577.4 399.2 L578.0 398.4 L578.6 397.5 L579.2 396.7 L579.8 395.9 L580.4 395.1 L581.0 394.3 L581.6 393.4 L582.2 392.6 L582.8 391.8 L583.4 391.0 L584.0 390.2 L584.7 389.4 L585.3 388.6 L585.9 387.8 L586.6 387.0 L587.2 386.2 L587.8 385.4 L588.5 384.6 L589.1 383.8 L589.7 383.0 L590.4 382.2 L591.0 381.5 L591.7 380.7 L592.3 379.9 L593.0 379.1 L593.6 378.3 L594.3 377.5 L594.9 376.8 L595.6 376.0 L596.2 375.2 L596.9 374.4 L597.5 373.6 L598.2 372.9 L598.8 372.1 L599.5 371.3 L600.1 370.6 L600.8 369.8 L601.5 369.0 L602.1 368.2 L602.8 367.5 L603.4 366.7 L604.1 365.9 L604.7 365.2 L605.4 364.4 L606.0 363.6 L606.7 362.9 L607.4 362.1 L608.0 361.4 L608.7 360.6 L609.3 359.8 L610.0 359.1 L610.6 358.3 L611.3 357.6 L611.9 356.8 L612.6 356.1 L613.3 355.3 L613.9 354.6 L614.6 353.8 L615.2 353.1 L615.9 352.3 L616.6 351.6 L617.2 350.9 L617.9 350.1 L618.6 349.4 L619.3 348.7 L620.0 348.0 L620.6 347.3 L621.3 346.5 L622.0 345.8 L622.7 345.1 L623.4 344.4 L624.1 343.7 L624.8 343.0 L625.5 342.4 L626.2 341.7 L627.0 341.0 L627.7 340.3 L628.4 339.7 L629.1 339.0 L629.9 338.3 L630.6 337.7 L631.4 337.0 L632.1 336.4 L632.9 335.8 L633.7 335.1 L634.4 334.5 L635.2 333.9 L636.0 333.3 L636.8 332.7 L637.6 332.1 L638.4 331.5 L639.2 330.9 L640.0 330.4 L640.9 329.8 L641.7 329.2 L642.6 328.7 L643.4 328.1 L644.3 327.6 L645.1 327.1 L646.0 326.5 L646.9 326.0 L647.8 325.5 L648.7 325.0 L649.6 324.5 L650.5 324.1 L651.5 323.6 L652.4 323.1 L653.4 322.7 L654.3 322.2 L655.3 321.8" fill="none" stroke="#f4a6a6" stroke-width="0.9" clip-path="url(#cld)"/><rect x="399.6" y="304.4" width="280.1" height="225.89999999999998" fill="none" stroke="#7a7a7a" stroke-width="1.2"/><path d="M403.10 530.3 v-1.4 M403.10 304.4 v1.4 M407.70 530.3 v-1.4 M407.70 304.4 v1.4 M412.30 530.3 v-1.4 M412.30 304.4 v1.4 M416.90 530.3 v-1.4 M416.90 304.4 v1.4 M421.50 530.3 v-2.8 M421.50 304.4 v2.8 M426.10 530.3 v-1.4 M426.10 304.4 v1.4 M430.70 530.3 v-1.4 M430.70 304.4 v1.4 M435.30 530.3 v-1.4 M435.30 304.4 v1.4 M439.90 530.3 v-1.4 M439.90 304.4 v1.4 M444.50 530.3 v-2.8 M444.50 304.4 v2.8 M449.10 530.3 v-1.4 M449.10 304.4 v1.4 M453.70 530.3 v-1.4 M453.70 304.4 v1.4 M458.30 530.3 v-1.4 M458.30 304.4 v1.4 M462.90 530.3 v-1.4 M462.90 304.4 v1.4 M467.50 530.3 v-2.8 M467.50 304.4 v2.8 M472.10 530.3 v-1.4 M472.10 304.4 v1.4 M476.70 530.3 v-1.4 M476.70 304.4 v1.4 M481.30 530.3 v-1.4 M481.30 304.4 v1.4 M485.90 530.3 v-1.4 M485.90 304.4 v1.4 M490.50 530.3 v-2.8 M490.50 304.4 v2.8 M495.10 530.3 v-1.4 M495.10 304.4 v1.4 M499.70 530.3 v-1.4 M499.70 304.4 v1.4 M504.30 530.3 v-1.4 M504.30 304.4 v1.4 M508.90 530.3 v-1.4 M508.90 304.4 v1.4 M513.50 530.3 v-2.8 M513.50 304.4 v2.8 M518.10 530.3 v-1.4 M518.10 304.4 v1.4 M522.70 530.3 v-1.4 M522.70 304.4 v1.4 M527.30 530.3 v-1.4 M527.30 304.4 v1.4 M531.90 530.3 v-1.4 M531.90 304.4 v1.4 M536.50 530.3 v-2.8 M536.50 304.4 v2.8 M541.10 530.3 v-1.4 M541.10 304.4 v1.4 M545.70 530.3 v-1.4 M545.70 304.4 v1.4 M550.30 530.3 v-1.4 M550.30 304.4 v1.4 M554.90 530.3 v-1.4 M554.90 304.4 v1.4 M559.50 530.3 v-2.8 M559.50 304.4 v2.8 M564.10 530.3 v-1.4 M564.10 304.4 v1.4 M568.70 530.3 v-1.4 M568.70 304.4 v1.4 M573.30 530.3 v-1.4 M573.30 304.4 v1.4 M577.90 530.3 v-1.4 M577.90 304.4 v1.4 M582.50 530.3 v-2.8 M582.50 304.4 v2.8 M587.10 530.3 v-1.4 M587.10 304.4 v1.4 M591.70 530.3 v-1.4 M591.70 304.4 v1.4 M596.30 530.3 v-1.4 M596.30 304.4 v1.4 M600.90 530.3 v-1.4 M600.90 304.4 v1.4 M605.50 530.3 v-2.8 M605.50 304.4 v2.8 M610.10 530.3 v-1.4 M610.10 304.4 v1.4 M614.70 530.3 v-1.4 M614.70 304.4 v1.4 M619.30 530.3 v-1.4 M619.30 304.4 v1.4 M623.90 530.3 v-1.4 M623.90 304.4 v1.4 M628.50 530.3 v-2.8 M628.50 304.4 v2.8 M633.10 530.3 v-1.4 M633.10 304.4 v1.4 M637.70 530.3 v-1.4 M637.70 304.4 v1.4 M642.30 530.3 v-1.4 M642.30 304.4 v1.4 M646.90 530.3 v-1.4 M646.90 304.4 v1.4 M651.50 530.3 v-2.8 M651.50 304.4 v2.8 M656.10 530.3 v-1.4 M656.10 304.4 v1.4 M660.70 530.3 v-1.4 M660.70 304.4 v1.4 M665.30 530.3 v-1.4 M665.30 304.4 v1.4 M669.90 530.3 v-1.4 M669.90 304.4 v1.4 M674.50 530.3 v-2.8 M674.50 304.4 v2.8 M679.10 530.3 v-1.4 M679.10 304.4 v1.4 M399.6 523.12 h1.4 M679.7 523.12 h-1.4 M399.6 517.53 h1.4 M679.7 517.53 h-1.4 M399.6 513.19 h1.4 M679.7 513.19 h-1.4 M399.6 509.64 h1.4 M679.7 509.64 h-1.4 M399.6 506.64 h1.4 M679.7 506.64 h-1.4 M399.6 504.04 h1.4 M679.7 504.04 h-1.4 M399.6 501.75 h1.4 M679.7 501.75 h-1.4 M399.6 499.70 h2.8 M679.7 499.70 h-2.8 M399.6 486.21 h1.4 M679.7 486.21 h-1.4 M399.6 478.32 h1.4 M679.7 478.32 h-1.4 M399.6 472.73 h1.4 M679.7 472.73 h-1.4 M399.6 468.39 h1.4 M679.7 468.39 h-1.4 M399.6 464.84 h1.4 M679.7 464.84 h-1.4 M399.6 461.84 h1.4 M679.7 461.84 h-1.4 M399.6 459.24 h1.4 M679.7 459.24 h-1.4 M399.6 456.95 h1.4 M679.7 456.95 h-1.4 M399.6 454.90 h2.8 M679.7 454.90 h-2.8 M399.6 441.41 h1.4 M679.7 441.41 h-1.4 M399.6 433.52 h1.4 M679.7 433.52 h-1.4 M399.6 427.93 h1.4 M679.7 427.93 h-1.4 M399.6 423.59 h1.4 M679.7 423.59 h-1.4 M399.6 420.04 h1.4 M679.7 420.04 h-1.4 M399.6 417.04 h1.4 M679.7 417.04 h-1.4 M399.6 414.44 h1.4 M679.7 414.44 h-1.4 M399.6 412.15 h1.4 M679.7 412.15 h-1.4 M399.6 410.10 h2.8 M679.7 410.10 h-2.8 M399.6 396.61 h1.4 M679.7 396.61 h-1.4 M399.6 388.72 h1.4 M679.7 388.72 h-1.4 M399.6 383.13 h1.4 M679.7 383.13 h-1.4 M399.6 378.79 h1.4 M679.7 378.79 h-1.4 M399.6 375.24 h1.4 M679.7 375.24 h-1.4 M399.6 372.24 h1.4 M679.7 372.24 h-1.4 M399.6 369.64 h1.4 M679.7 369.64 h-1.4 M399.6 367.35 h1.4 M679.7 367.35 h-1.4 M399.6 365.30 h2.8 M679.7 365.30 h-2.8 M399.6 351.81 h1.4 M679.7 351.81 h-1.4 M399.6 343.92 h1.4 M679.7 343.92 h-1.4 M399.6 338.33 h1.4 M679.7 338.33 h-1.4 M399.6 333.99 h1.4 M679.7 333.99 h-1.4 M399.6 330.44 h1.4 M679.7 330.44 h-1.4 M399.6 327.44 h1.4 M679.7 327.44 h-1.4 M399.6 324.84 h1.4 M679.7 324.84 h-1.4 M399.6 322.55 h1.4 M679.7 322.55 h-1.4 M399.6 320.50 h2.8 M679.7 320.50 h-2.8 M399.6 307.01 h1.4 M679.7 307.01 h-1.4" stroke="#6a6a6a" stroke-width="1.1" fill="none"/><text transform="translate(420.75 540.90) scale(0.93 1)" class="tl" text-anchor="middle">-<tspan dx="0.95">0.7</tspan></text><text transform="translate(443.75 540.90) scale(0.93 1)" class="tl" text-anchor="middle">-<tspan dx="0.95">0.65</tspan></text><text transform="translate(466.75 540.90) scale(0.93 1)" class="tl" text-anchor="middle">-<tspan dx="0.95">0.6</tspan></text><text transform="translate(489.75 540.90) scale(0.93 1)" class="tl" text-anchor="middle">-<tspan dx="0.95">0.55</tspan></text><text transform="translate(512.75 540.90) scale(0.93 1)" class="tl" text-anchor="middle">-<tspan dx="0.95">0.5</tspan></text><text transform="translate(535.75 540.90) scale(0.93 1)" class="tl" text-anchor="middle">-<tspan dx="0.95">0.45</tspan></text><text transform="translate(558.75 540.90) scale(0.93 1)" class="tl" text-anchor="middle">-<tspan dx="0.95">0.4</tspan></text><text transform="translate(581.75 540.90) scale(0.93 1)" class="tl" text-anchor="middle">-<tspan dx="0.95">0.35</tspan></text><text transform="translate(604.75 540.90) scale(0.93 1)" class="tl" text-anchor="middle">-<tspan dx="0.95">0.3</tspan></text><text transform="translate(627.75 540.90) scale(0.93 1)" class="tl" text-anchor="middle">-<tspan dx="0.95">0.25</tspan></text><text transform="translate(650.75 540.90) scale(0.93 1)" class="tl" text-anchor="middle">-<tspan dx="0.95">0.2</tspan></text><text transform="translate(673.75 540.90) scale(0.93 1)" class="tl" text-anchor="middle">-<tspan dx="0.95">0.15</tspan></text><text transform="translate(395.00 323.20) scale(0.93 1)" class="tl" text-anchor="end">0.01</text><text transform="translate(395.00 368.00) scale(0.93 1)" class="tl" text-anchor="end">0.001</text><text transform="translate(395.00 412.80) scale(0.93 1)" class="tl" text-anchor="end">0.0001</text><text transform="translate(395.00 457.60) scale(0.93 1)" class="tl" text-anchor="end">1E-5</text><text transform="translate(395.00 502.40) scale(0.93 1)" class="tl" text-anchor="end">1E-6</text><text x="534.5" y="297.8" class="ti" text-anchor="middle">(d)</text><text x="517.4" y="324.4" class="tm">55 °C</text><text x="513.3" y="554.6" class="al">E/ (V vs. Ag/AgCl)</text><text transform="translate(359.9 464.4) rotate(-90)" class="al">log I<tspan class="sub" dy="1.4">corr</tspan><tspan dy="-1.4"> / (A cm</tspan><tspan class="sub" dy="-3.5">-2</tspan><tspan dy="3.5">)</tspan></text><line x1="615.0" x2="623.5" y1="496.2" y2="496.2" stroke="#555555" stroke-width="1"/><text x="631.8000000000001" y="500.1" class="lg" textLength="29.0" lengthAdjust="spacingAndGlyphs">5% HCl</text><line x1="615.0" x2="622.4" y1="508.5" y2="508.5" stroke="#78bc78" stroke-width="1" stroke-dasharray="1.6 0.7"/><text x="629.6" y="510.3" class="lg" textLength="32.7" lengthAdjust="spacingAndGlyphs">0.01 mM</text><line x1="615.0" x2="622.0" y1="519.1" y2="519.1" stroke="#f4a6a6" stroke-width="1"/><text x="631.5" y="520.7" class="lg" textLength="25.8" lengthAdjust="spacingAndGlyphs">20 mM</text></g>
</svg></body></html>
